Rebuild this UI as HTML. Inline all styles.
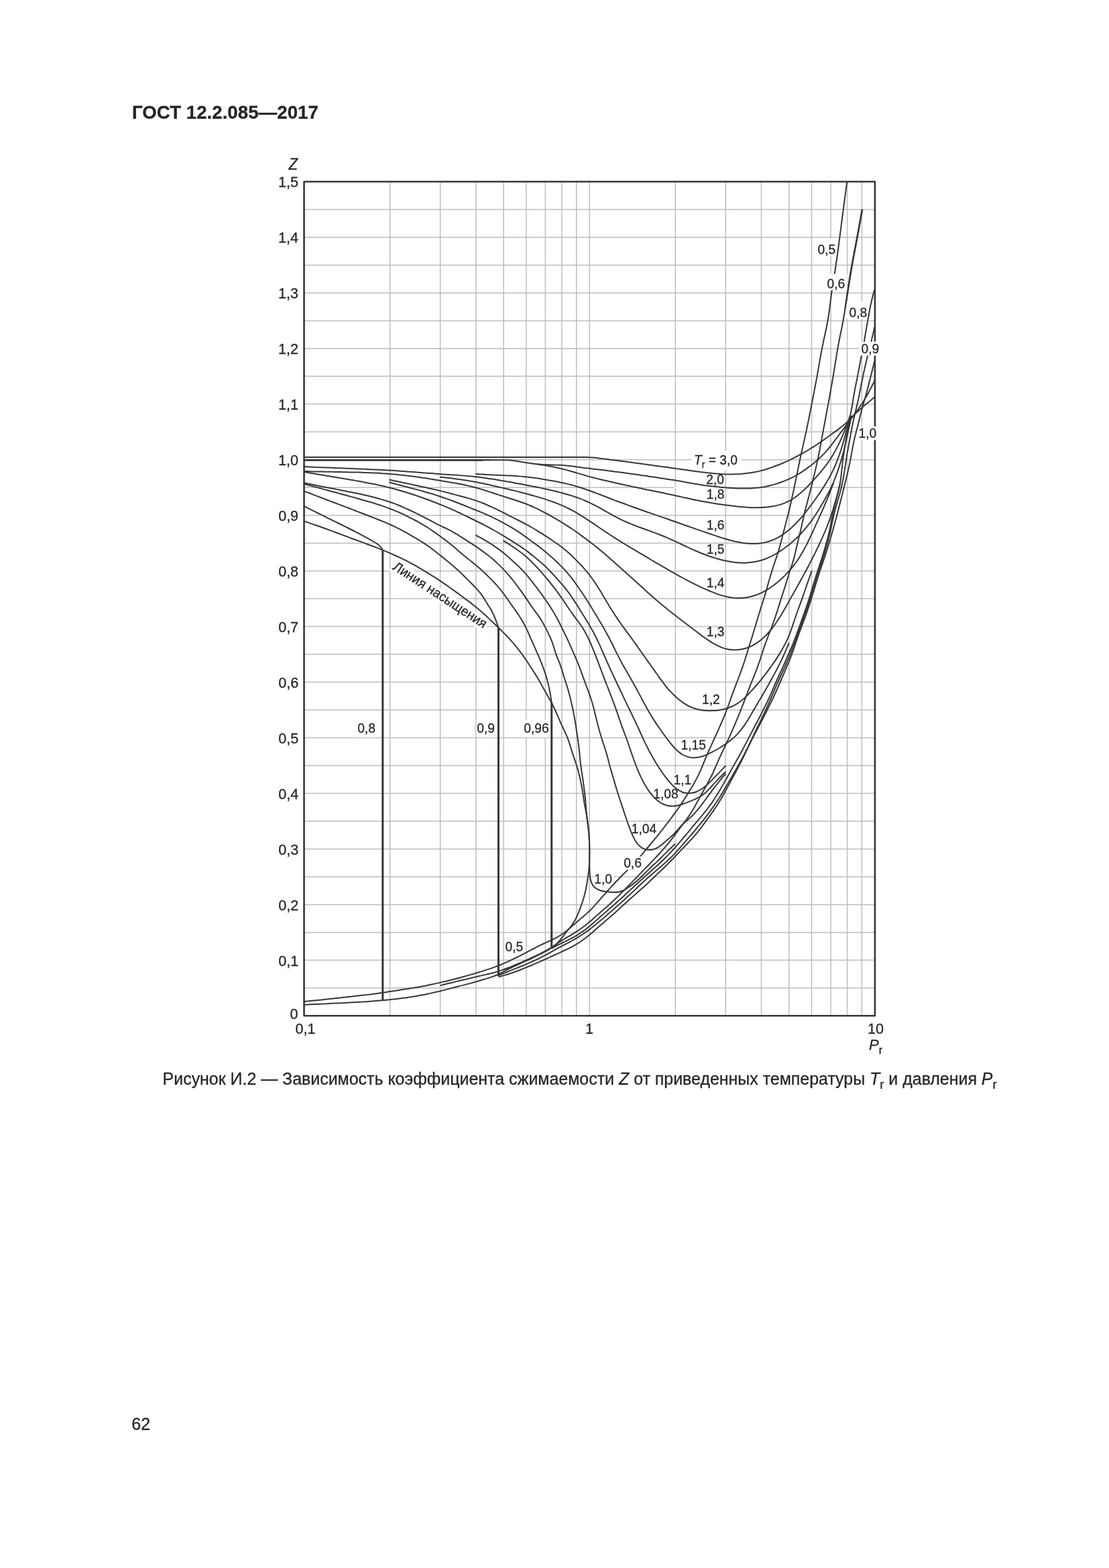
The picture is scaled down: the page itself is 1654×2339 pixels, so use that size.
<!DOCTYPE html>
<html lang="ru"><head><meta charset="utf-8"><title>ГОСТ 12.2.085—2017</title>
<style>html,body{margin:0;padding:0;background:#fff}body{width:1654px;height:2339px;overflow:hidden}svg{display:block}text{font-family:"Liberation Sans",sans-serif;fill:#262626;stroke:#262626;stroke-width:.3px}.c{fill:none;stroke:#363636;stroke-linecap:butt;stroke-linejoin:round}.g{stroke:#bdbdbd;stroke-width:1.5;fill:none}.k{fill:#fff}.a{font-size:22.1px}.l{font-size:20px}.i{font-style:italic}</style></head><body>
<svg width="1654" height="2339" viewBox="0 0 1654 2339">
<rect width="1654" height="2339" fill="#fff"/>
<path class="g" d="M581.6 271V1515.3M656.6 271V1515.3M709.8 271V1515.3M751.1 271V1515.3M784.8 271V1515.3M813.3 271V1515.3M837.9 271V1515.3M859.7 271V1515.3M1007.3 271V1515.3M1082.3 271V1515.3M1135.5 271V1515.3M1176.8 271V1515.3M1210.5 271V1515.3M1239 271V1515.3M1263.6 271V1515.3M1285.4 271V1515.3M879.2 271V1515.3M453.5 1473.8H1304.9M453.5 1432.3H1304.9M453.5 1390.9H1304.9M453.5 1349.4H1304.9M453.5 1307.9H1304.9M453.5 1266.4H1304.9M453.5 1225H1304.9M453.5 1183.5H1304.9M453.5 1142H1304.9M453.5 1100.5H1304.9M453.5 1059.1H1304.9M453.5 1017.6H1304.9M453.5 976.1H1304.9M453.5 934.6H1304.9M453.5 893.1H1304.9M453.5 851.7H1304.9M453.5 810.2H1304.9M453.5 768.7H1304.9M453.5 727.2H1304.9M453.5 685.8H1304.9M453.5 644.3H1304.9M453.5 602.8H1304.9M453.5 561.3H1304.9M453.5 519.9H1304.9M453.5 478.4H1304.9M453.5 436.9H1304.9M453.5 395.4H1304.9M453.5 354H1304.9M453.5 312.5H1304.9"/>
<rect class="c" stroke-width="2.6" stroke-linejoin="miter" x="453.5" y="271" width="851.4" height="1244.3"/>
<rect class="k" x="1004" y="1153.5" width="30.4" height="19.8"/>
<rect class="k" x="973.8" y="1174.1" width="41.1" height="19.8"/>
<rect class="k" x="941.3" y="1226.5" width="41.1" height="19.8"/>
<rect class="k" x="885.8" y="1301.6" width="30.4" height="19.8"/>
<rect class="k" x="929.7" y="1277.6" width="30.4" height="19.8"/>
<rect class="k" x="753" y="1402.5" width="30.4" height="19.8"/>
<rect class="k" x="532.7" y="1073.5" width="30.4" height="26.5"/>
<rect class="k" x="710.7" y="1073.5" width="30.4" height="26.5"/>
<rect class="k" x="779.3" y="1073.5" width="42.6" height="26.5"/>
<rect class="k" x="1216.5" y="356.3" width="32.9" height="25.8"/>
<rect class="k" x="1230.5" y="408.6" width="32.9" height="24.3"/>
<rect class="k" x="1263" y="449.5" width="33.4" height="26.3"/>
<rect class="k" x="1281.5" y="509.8" width="32.9" height="20.5"/>
<rect class="k" x="1277.5" y="636" width="32.9" height="20.5"/>
<rect class="k" x="1031.5" y="672" width="73.5" height="29"/>
<rect class="k" x="1005.5" y="726.2" width="76.7" height="2.1"/>
<g transform="translate(584.6 848.5) rotate(33.2)"><rect class="k" x="-2" y="-15.5" width="167" height="20"/></g>
<path class="c" stroke-width="2.0" d="M453.5 682L850 682"/>
<path class="c" stroke-width="2.0" d="M830 682C833 682 836 682 839 682C842 682 845 682 848 682C851 682 853.9 682 856.9 681.9C859.9 681.9 862.9 681.9 865.9 681.9C868.9 681.9 871.9 681.9 874.9 682C877.9 682.1 880.9 682.3 883.9 682.5C886.8 682.7 889.8 683.1 892.8 683.4C895.8 683.7 898.7 684.1 901.7 684.5C904.7 684.9 907.6 685.3 910.6 685.7C913.6 686 916.5 686.4 919.5 686.8C922.5 687.2 925.4 687.6 928.4 688C931.4 688.4 934.3 688.8 937.3 689.2C940.3 689.6 943.2 690 946.2 690.4C949.2 690.8 952.1 691.2 955.1 691.6C958.1 692 961 692.4 964 692.8C967 693.2 969.9 693.6 972.9 694.1C975.9 694.5 978.8 694.9 981.8 695.3C984.8 695.7 987.7 696.1 990.7 696.5C993.7 696.9 996.6 697.3 999.6 697.7C1002.6 698.1 1005.5 698.5 1008.5 699C1011.4 699.4 1014.4 699.8 1017.4 700.2C1020.3 700.7 1023.3 701.1 1026.3 701.5C1029.2 701.9 1032.2 702.3 1035.2 702.7C1038.1 703.2 1041.1 703.5 1044.1 703.9C1047 704.3 1050 704.6 1053 705C1056 705.3 1058.9 705.6 1061.9 705.9C1064.9 706.2 1067.9 706.5 1070.9 706.7C1073.8 707 1076.8 707.1 1079.8 707.3C1082.8 707.4 1085.8 707.5 1088.8 707.5C1091.8 707.5 1094.8 707.4 1097.8 707.3C1100.8 707.2 1103.7 707 1106.7 706.7C1109.7 706.5 1112.7 706.2 1115.7 705.8C1118.6 705.4 1121.6 705 1124.5 704.4C1127.5 703.9 1130.4 703.3 1133.3 702.6C1136.2 701.9 1139.1 701.1 1142 700.2C1144.8 699.4 1147.7 698.4 1150.5 697.4C1153.3 696.4 1156.1 695.4 1158.9 694.3C1161.7 693.3 1164.5 692.2 1167.3 691C1170 689.8 1172.8 688.6 1175.5 687.4C1178.2 686.1 1180.9 684.8 1183.5 683.4C1186.2 682 1188.8 680.6 1191.4 679.1C1194.1 677.7 1196.7 676.2 1199.3 674.8C1201.9 673.3 1204.5 671.8 1207.1 670.3C1209.6 668.7 1212.2 667.2 1214.7 665.6C1217.3 664 1219.7 662.3 1222.2 660.7C1224.7 659 1227.1 657.2 1229.5 655.5C1232 653.7 1234.4 651.9 1236.8 650.2C1239.2 648.4 1241.7 646.7 1244.1 644.9C1246.5 643.2 1249 641.4 1251.3 639.6C1253.7 637.8 1256.1 636 1258.4 634.1C1260.7 632.2 1262.9 630.1 1265 628.1C1267.2 626 1269.2 623.8 1271.3 621.7C1273.4 619.6 1275.5 617.4 1277.6 615.3C1279.8 613.2 1281.9 611.2 1284.2 609.2C1286.4 607.2 1288.7 605.3 1291 603.4C1293.3 601.5 1295.6 599.6 1298 597.7C1300.3 595.8 1302.6 593.9 1304.9 592"/>
<path class="c" stroke-width="2.8" d="M453.5 686.3L720 686.3"/>
<path class="c" stroke-width="2.0" d="M453.5 686.3L730 686.3"/>
<path class="c" stroke-width="2.0" d="M710 686.3C713 686.3 716 686.3 719 686.3C722 686.3 725 686.3 728 686.3C731 686.3 734.1 686.2 737.1 686.2C740.1 686.2 743.1 686.2 746.1 686.2C749.1 686.2 752.1 686.2 755.1 686.3C758.1 686.5 761.1 686.7 764.1 687C767 687.3 770 687.8 773 688.2C776 688.7 778.9 689.2 781.9 689.7C784.8 690.2 787.8 690.7 790.8 691.1C793.8 691.6 796.7 692 799.7 692.3C802.7 692.6 805.7 692.8 808.7 693C811.7 693.2 814.7 693.3 817.7 693.3C820.7 693.4 823.7 693.4 826.7 693.5C829.7 693.5 832.7 693.6 835.7 693.7C838.7 693.9 841.7 694.1 844.7 694.4C847.7 694.7 850.7 695.1 853.7 695.5C856.6 695.9 859.6 696.3 862.6 696.7C865.6 697.1 868.6 697.5 871.6 697.9C874.5 698.2 877.5 698.6 880.5 698.9C883.5 699.3 886.5 699.7 889.5 700C892.4 700.4 895.4 700.8 898.4 701.1C901.4 701.5 904.4 701.9 907.4 702.3C910.3 702.6 913.3 703 916.3 703.4C919.3 703.8 922.3 704.2 925.3 704.6C928.2 705 931.2 705.4 934.2 705.8C937.2 706.2 940.1 706.6 943.1 707C946.1 707.5 949.1 707.9 952.1 708.3C955 708.7 958 709.2 961 709.6C964 710 966.9 710.5 969.9 710.9C972.9 711.3 975.9 711.8 978.8 712.2C981.8 712.7 984.8 713.1 987.8 713.6C990.7 714 993.7 714.5 996.7 714.9C999.6 715.4 1002.6 715.9 1005.6 716.3C1008.5 716.8 1011.5 717.3 1014.5 717.8C1017.4 718.3 1020.4 718.9 1023.4 719.4C1026.3 719.9 1029.3 720.5 1032.2 721C1035.2 721.5 1038.2 722 1041.1 722.5C1044.1 723 1047.1 723.4 1050 723.9C1053 724.3 1056 724.7 1059 725.1C1062 725.5 1064.9 725.8 1067.9 726.1C1070.9 726.5 1073.9 726.8 1076.9 727C1079.9 727.3 1082.9 727.5 1085.9 727.7C1088.9 727.9 1091.9 728.1 1094.9 728.2C1097.9 728.4 1100.9 728.5 1103.9 728.5C1106.9 728.6 1109.9 728.6 1113 728.5C1116 728.5 1119 728.5 1122 728.3C1125 728.1 1128 727.9 1131 727.6C1133.9 727.2 1136.9 726.8 1139.9 726.3C1142.8 725.7 1145.8 725.1 1148.7 724.3C1151.6 723.6 1154.5 722.8 1157.3 721.9C1160.2 721 1163.1 720 1165.9 719C1168.7 718 1171.5 716.9 1174.3 715.7C1177.1 714.5 1179.8 713.3 1182.5 711.9C1185.1 710.5 1187.7 709 1190.3 707.5C1192.9 705.9 1195.4 704.3 1197.9 702.6C1200.4 700.9 1202.8 699.2 1205.2 697.4C1207.7 695.6 1210.1 693.8 1212.4 691.9C1214.8 690 1217.1 688.1 1219.4 686.1C1221.6 684.1 1223.8 682.1 1225.9 679.9C1228 677.8 1230.1 675.6 1232.1 673.4C1234.1 671.1 1236 668.8 1237.9 666.5C1239.8 664.1 1241.6 661.8 1243.4 659.4C1245.2 657 1247 654.5 1248.8 652.1C1250.6 649.7 1252.4 647.3 1254.2 644.9C1256 642.5 1257.8 640.1 1259.6 637.7C1261.4 635.3 1263.2 632.9 1265 630.5C1266.8 628.1 1268.6 625.7 1270.4 623.3C1272.2 620.9 1274.1 618.5 1275.8 616C1277.6 613.6 1279.4 611.2 1281.1 608.7C1282.9 606.3 1284.6 603.8 1286.2 601.3C1287.8 598.8 1289.4 596.2 1290.9 593.6C1292.5 591 1293.9 588.4 1295.3 585.7C1296.8 583.1 1298 580.6 1299.5 577.7C1301.2 574.4 1303.1 570.6 1304.9 567"/>
<path class="c" stroke-width="2.0" d="M800 692.3C803 692.7 805.9 693.2 808.9 693.6C811.9 694.1 814.8 694.6 817.8 695.1C820.7 695.6 823.7 696.1 826.6 696.7C829.5 697.3 832.4 698 835.4 698.7C838.3 699.4 841.2 700.1 844.1 700.9C846.9 701.7 849.8 702.5 852.7 703.3C855.6 704.2 858.4 705.1 861.3 705.9C864.2 706.8 867.1 707.6 869.9 708.4C872.8 709.3 875.7 710.1 878.6 710.9C881.5 711.6 884.4 712.4 887.3 713.1C890.2 713.9 893.1 714.6 896 715.3C898.9 716 901.8 716.7 904.8 717.3C907.7 718 910.6 718.7 913.5 719.3C916.4 720 919.4 720.7 922.3 721.3C925.2 722 928.1 722.6 931.1 723.2C934 723.9 936.9 724.5 939.9 725.1C942.8 725.8 945.7 726.4 948.7 727C951.6 727.6 954.5 728.2 957.4 728.9C960.4 729.5 963.3 730.1 966.2 730.7C969.2 731.3 972.1 731.9 975.1 732.5C978 733.1 980.9 733.7 983.9 734.3C986.8 734.9 989.7 735.5 992.7 736.2C995.6 736.8 998.5 737.4 1001.4 738C1004.4 738.7 1007.3 739.3 1010.2 739.9C1013.2 740.6 1016.1 741.2 1019 741.9C1021.9 742.5 1024.9 743.2 1027.8 743.8C1030.7 744.4 1033.6 745.1 1036.6 745.7C1039.5 746.3 1042.4 746.9 1045.4 747.5C1048.3 748 1051.3 748.6 1054.2 749.1C1057.2 749.6 1060.1 750.1 1063.1 750.6C1066 751 1069 751.5 1072 751.9C1074.9 752.3 1077.9 752.8 1080.9 753.2C1083.9 753.6 1086.8 753.9 1089.8 754.3C1092.8 754.7 1095.8 755 1098.7 755.4C1101.7 755.7 1104.7 756 1107.7 756.2C1110.7 756.5 1113.7 756.7 1116.7 756.9C1119.7 757.1 1122.7 757.2 1125.7 757.2C1128.7 757.3 1131.7 757.2 1134.7 757.1C1137.7 757 1140.7 756.8 1143.6 756.5C1146.6 756.2 1149.6 755.8 1152.6 755.3C1155.5 754.8 1158.4 754.1 1161.3 753.4C1164.2 752.6 1167 751.7 1169.8 750.6C1172.5 749.5 1175.2 748.3 1177.8 746.9C1180.5 745.5 1183 743.9 1185.4 742.2C1187.9 740.6 1190.2 738.7 1192.5 736.8C1194.8 734.9 1197.1 732.9 1199.2 730.8C1201.4 728.8 1203.5 726.6 1205.6 724.5C1207.7 722.3 1209.8 720.1 1211.8 717.9C1213.8 715.7 1215.8 713.4 1217.8 711.2C1219.8 708.9 1221.8 706.6 1223.7 704.3C1225.6 702 1227.5 699.7 1229.4 697.4C1231.2 695 1233 692.6 1234.8 690.2C1236.5 687.7 1238.2 685.3 1239.8 682.7C1241.4 680.2 1242.9 677.7 1244.4 675.1C1245.9 672.5 1247.3 669.8 1248.6 667.1C1250 664.5 1251.3 661.8 1252.6 659.1C1253.8 656.4 1255.1 653.6 1256.2 650.9C1257.4 648.1 1258.6 645.3 1259.7 642.5C1260.8 639.8 1261.8 637 1262.8 634.1C1263.9 631.3 1265 628.2 1265.8 625.7C1266.6 623.6 1267.1 621.9 1267.8 620"/>
<path class="c" stroke-width="2.0" d="M709.2 706.9C712.2 707.1 715.2 707.2 718.2 707.4C721.2 707.6 724.1 707.7 727.1 707.9C730.1 708 733.1 708.2 736.1 708.4C739.1 708.5 742.1 708.6 745.1 708.8C748.1 708.9 751.1 709 754.1 709.2C757.1 709.3 760 709.5 763 709.6C766 709.8 769 709.9 772 710.2C775 710.4 778 710.6 780.9 710.9C783.9 711.2 786.9 711.5 789.9 711.9C792.8 712.2 795.8 712.6 798.7 713.1C801.7 713.5 804.7 714 807.6 714.5C810.6 714.9 813.5 715.4 816.5 716C819.4 716.5 822.4 717 825.3 717.5C828.3 718.1 831.2 718.7 834.1 719.2C837.1 719.8 840 720.5 842.9 721.1C845.8 721.8 848.7 722.5 851.6 723.3C854.5 724 857.4 724.8 860.3 725.7C863.2 726.5 866 727.4 868.8 728.3C871.7 729.3 874.5 730.2 877.3 731.2C880.2 732.2 883 733.3 885.8 734.3C888.6 735.4 891.4 736.4 894.2 737.5C897 738.6 899.8 739.7 902.6 740.8C905.4 741.8 908.1 742.9 910.9 744C913.7 745.1 916.5 746.1 919.3 747.2C922.1 748.2 924.9 749.3 927.8 750.3C930.6 751.4 933.4 752.4 936.2 753.4C939 754.5 941.8 755.5 944.6 756.5C947.4 757.5 950.3 758.5 953.1 759.5C955.9 760.5 958.7 761.5 961.6 762.5C964.4 763.5 967.2 764.5 970 765.4C972.9 766.4 975.7 767.4 978.5 768.4C981.4 769.4 984.2 770.4 987 771.4C989.8 772.3 992.7 773.3 995.5 774.3C998.3 775.3 1001.1 776.3 1004 777.3C1006.8 778.3 1009.6 779.2 1012.5 780.2C1015.3 781.2 1018.1 782.2 1020.9 783.2C1023.8 784.2 1026.6 785.2 1029.4 786.1C1032.2 787.1 1035.1 788.1 1037.9 789.1C1040.7 790.1 1043.6 791.1 1046.4 792.1C1049.2 793 1052.1 794 1054.9 795C1057.7 796 1060.6 797 1063.4 797.9C1066.2 798.9 1069.1 799.9 1071.9 800.8C1074.8 801.7 1077.6 802.6 1080.5 803.5C1083.4 804.4 1086.3 805.2 1089.2 806C1092.1 806.7 1095 807.4 1097.9 808.1C1100.9 808.7 1103.8 809.2 1106.8 809.7C1109.7 810.1 1112.7 810.5 1115.7 810.7C1118.7 810.9 1121.7 811 1124.7 811C1127.6 811 1130.6 810.8 1133.6 810.4C1136.5 810.1 1139.4 809.6 1142.3 808.9C1145.2 808.2 1148 807.3 1150.7 806.2C1153.5 805.2 1156.2 804 1158.8 802.6C1161.5 801.3 1164 799.7 1166.5 798.1C1169 796.5 1171.5 794.7 1173.8 792.8C1176.2 791 1178.4 789 1180.7 787C1182.9 785 1185 782.9 1187.1 780.7C1189.2 778.6 1191.2 776.4 1193.2 774.1C1195.2 771.9 1197.2 769.6 1199.1 767.3C1201 765 1202.8 762.6 1204.6 760.2C1206.5 757.8 1208.2 755.4 1210 753C1211.8 750.6 1213.6 748.2 1215.3 745.7C1217 743.3 1218.8 740.8 1220.5 738.4C1222.2 735.9 1223.9 733.4 1225.5 730.9C1227.2 728.4 1228.8 725.9 1230.4 723.4C1232 720.8 1233.5 718.3 1235 715.7C1236.5 713.1 1237.9 710.5 1239.3 707.8C1240.7 705.2 1242 702.5 1243.2 699.8C1244.5 697.1 1245.7 694.3 1246.9 691.6C1248 688.8 1249.1 686 1250.1 683.2C1251.2 680.4 1252.2 677.6 1253.1 674.7C1254 671.9 1254.9 669 1255.8 666.2C1256.7 663.3 1257.5 660.4 1258.3 657.5C1259.1 654.7 1259.9 651.8 1260.7 648.9C1261.5 646 1262.2 643.1 1263 640.2C1263.8 637.3 1264.5 634.6 1265.4 631.5C1266.4 628 1267.5 623.8 1268.6 620"/>
<path class="c" stroke-width="2.0" d="M453.5 696.1C456.5 696.2 459.5 696.4 462.5 696.5C465.5 696.6 468.5 696.7 471.5 696.9C474.5 697 477.5 697.1 480.5 697.2C483.5 697.3 486.5 697.5 489.5 697.6C492.5 697.7 495.5 697.8 498.5 697.9C501.5 698.1 504.5 698.2 507.5 698.3C510.5 698.4 513.5 698.5 516.5 698.7C519.5 698.8 522.5 698.9 525.5 699C528.5 699.1 531.5 699.3 534.5 699.4C537.5 699.5 540.5 699.7 543.5 699.8C546.5 699.9 549.5 700.1 552.5 700.2C555.5 700.3 558.5 700.5 561.5 700.6C564.5 700.8 567.5 700.9 570.5 701.1C573.5 701.3 576.5 701.4 579.5 701.6C582.5 701.8 585.5 702 588.5 702.1C591.5 702.3 594.5 702.5 597.5 702.7C600.5 702.9 603.5 703.2 606.5 703.4C609.5 703.6 612.5 703.8 615.4 704C618.4 704.3 621.4 704.5 624.4 704.7C627.4 705 630.4 705.2 633.4 705.4C636.4 705.7 639.4 705.9 642.4 706.1C645.4 706.4 648.4 706.6 651.4 706.8C654.4 707 657.4 707.2 660.4 707.4C663.4 707.6 666.4 707.8 669.3 708C672.3 708.2 675.3 708.4 678.3 708.6C681.3 708.8 684.3 709 687.3 709.3C690.3 709.5 693.3 709.7 696.3 710C699.3 710.2 702.3 710.5 705.3 710.8C708.3 711.1 711.2 711.5 714.2 711.8C717.2 712.2 720.2 712.6 723.1 713C726.1 713.4 729.1 713.9 732.1 714.3C735 714.8 738 715.2 741 715.7C743.9 716.2 746.9 716.7 749.8 717.2C752.8 717.8 755.8 718.3 758.7 718.8C761.7 719.3 764.6 719.9 767.6 720.4C770.5 720.9 773.5 721.5 776.4 722C779.4 722.6 782.3 723.1 785.3 723.7C788.2 724.2 791.2 724.8 794.1 725.4C797.1 725.9 800 726.5 803 727.1C805.9 727.7 808.9 728.3 811.8 729C814.7 729.6 817.7 730.3 820.6 730.9C823.5 731.6 826.4 732.3 829.4 733C832.3 733.8 835.2 734.5 838.1 735.3C841 736.1 843.9 736.9 846.7 737.8C849.6 738.6 852.5 739.5 855.4 740.4C858.2 741.4 861 742.3 863.9 743.4C866.7 744.4 869.5 745.5 872.2 746.7C875 747.8 877.7 749 880.4 750.3C883.1 751.6 885.8 753 888.4 754.4C891.1 755.8 893.7 757.2 896.3 758.7C899 760.2 901.6 761.7 904.2 763.1C906.8 764.6 909.4 766.1 912 767.6C914.7 769 917.3 770.5 920 771.8C922.6 773.2 925.3 774.6 928 775.8C930.7 777.1 933.5 778.4 936.2 779.5C939 780.7 941.7 781.9 944.5 783C947.3 784.1 950.1 785.1 952.9 786.2C955.8 787.2 958.6 788.2 961.4 789.2C964.2 790.3 967.1 791.3 969.9 792.3C972.7 793.3 975.5 794.4 978.3 795.4C981.1 796.5 983.9 797.6 986.7 798.7C989.5 799.8 992.3 801 995 802.2C997.8 803.4 1000.5 804.6 1003.2 805.9C1006 807.1 1008.7 808.4 1011.4 809.7C1014.1 810.9 1016.8 812.2 1019.6 813.5C1022.3 814.8 1025 816 1027.7 817.3C1030.5 818.5 1033.2 819.8 1036 821C1038.7 822.2 1041.5 823.4 1044.2 824.5C1047 825.7 1049.8 826.8 1052.6 827.8C1055.4 828.9 1058.3 829.9 1061.1 830.8C1064 831.8 1066.9 832.6 1069.8 833.5C1072.6 834.3 1075.6 835.1 1078.5 835.8C1081.4 836.5 1084.4 837.1 1087.3 837.6C1090.3 838.2 1093.2 838.6 1096.2 839C1099.2 839.3 1102.2 839.5 1105.2 839.6C1108.2 839.7 1111.2 839.7 1114.1 839.5C1117.1 839.4 1120.1 839.1 1123 838.6C1126 838.2 1128.9 837.6 1131.8 836.8C1134.7 836.1 1137.5 835.2 1140.3 834.2C1143.1 833.1 1145.9 831.9 1148.6 830.7C1151.3 829.4 1153.9 828 1156.5 826.5C1159.1 825 1161.7 823.4 1164.2 821.7C1166.7 820.1 1169.2 818.3 1171.6 816.5C1174 814.7 1176.4 812.9 1178.7 811C1181 809 1183.3 807 1185.5 805C1187.7 803 1189.8 800.9 1191.9 798.7C1194 796.6 1196 794.4 1198 792.1C1200 789.9 1202 787.6 1203.8 785.2C1205.7 782.9 1207.6 780.5 1209.3 778.1C1211.1 775.7 1212.8 773.2 1214.5 770.7C1216.2 768.2 1217.8 765.7 1219.4 763.2C1221 760.6 1222.5 758.1 1224.1 755.5C1225.6 752.9 1227.1 750.3 1228.6 747.7C1230.1 745.1 1231.6 742.5 1233 739.8C1234.5 737.2 1235.9 734.6 1237.2 731.9C1238.6 729.2 1239.9 726.5 1241.1 723.8C1242.3 721.1 1243.5 718.3 1244.6 715.6C1245.8 712.8 1246.8 710 1247.8 707.2C1248.9 704.3 1249.8 701.5 1250.8 698.6C1251.7 695.8 1252.6 692.9 1253.5 690.1C1254.4 687.2 1255.2 684.3 1256 681.4C1256.9 678.5 1257.6 675.6 1258.4 672.7C1259.1 669.8 1259.8 666.9 1260.5 664C1261.2 661 1261.8 658.1 1262.5 655.2C1263.1 652.2 1263.7 649.3 1264.4 646.4C1265 643.4 1265.6 640.5 1266.3 637.6C1266.9 634.6 1267.6 631.7 1268.3 628.8C1268.9 625.8 1269.6 622.9 1270.3 620"/>
<path class="c" stroke-width="2.0" d="M656 711.4C659 711.8 662 712.1 664.9 712.5C667.9 712.9 670.9 713.2 673.9 713.6C676.9 714 679.8 714.4 682.8 714.8C685.8 715.2 688.8 715.6 691.7 716C694.7 716.5 697.7 717 700.6 717.5C703.6 718 706.6 718.5 709.5 719C712.4 719.6 715.4 720.2 718.3 720.8C721.3 721.4 724.2 722.1 727.1 722.7C730.1 723.4 733 724 735.9 724.7C738.9 725.3 741.8 726 744.7 726.7C747.6 727.3 750.6 728 753.5 728.7C756.4 729.4 759.3 730.1 762.3 730.8C765.2 731.5 768.1 732.2 771 732.9C773.9 733.7 776.8 734.4 779.7 735.2C782.6 735.9 785.6 736.7 788.5 737.5C791.4 738.3 794.3 739 797.1 739.9C800 740.7 802.9 741.5 805.8 742.4C808.7 743.3 811.5 744.1 814.4 745.1C817.3 746 820.1 747 822.9 748C825.8 749 828.6 750 831.4 751.2C834.1 752.3 836.9 753.4 839.7 754.6C842.4 755.9 845.1 757.1 847.8 758.5C850.5 759.8 853.1 761.2 855.8 762.7C858.4 764.1 861 765.6 863.5 767.2C866.1 768.7 868.6 770.3 871.2 771.9C873.7 773.6 876.2 775.2 878.7 776.9C881.2 778.6 883.7 780.2 886.2 781.9C888.7 783.6 891.2 785.3 893.7 787C896.2 788.6 898.6 790.3 901.1 792C903.6 793.7 906.1 795.3 908.7 797C911.2 798.6 913.7 800.3 916.2 801.9C918.7 803.5 921.3 805.1 923.8 806.7C926.4 808.3 928.9 809.9 931.5 811.4C934.1 813 936.6 814.5 939.2 816.1C941.8 817.6 944.4 819.1 947 820.7C949.5 822.2 952.1 823.7 954.7 825.3C957.3 826.8 959.9 828.3 962.5 829.9C965 831.4 967.6 833 970.2 834.5C972.8 836 975.3 837.6 977.9 839.1C980.5 840.6 983.1 842.2 985.7 843.7C988.3 845.2 990.9 846.7 993.5 848.2C996.1 849.7 998.7 851.2 1001.3 852.7C1003.9 854.2 1006.5 855.7 1009.2 857.1C1011.8 858.6 1014.4 860 1017.1 861.5C1019.7 862.9 1022.3 864.3 1025 865.7C1027.7 867.1 1030.3 868.5 1033 869.9C1035.7 871.2 1038.4 872.6 1041.1 873.9C1043.8 875.2 1046.5 876.4 1049.3 877.7C1052 878.9 1054.8 880.1 1057.6 881.3C1060.4 882.4 1063.2 883.6 1066 884.6C1068.8 885.7 1071.7 886.7 1074.5 887.6C1077.4 888.5 1080.3 889.3 1083.2 890C1086.1 890.6 1089.1 891.2 1092 891.6C1095 891.9 1097.9 892.2 1100.9 892.2C1103.9 892.2 1106.8 892.1 1109.8 891.8C1112.7 891.5 1115.7 891 1118.6 890.3C1121.5 889.6 1124.4 888.8 1127.2 887.8C1130 886.8 1132.8 885.7 1135.5 884.4C1138.2 883.1 1140.8 881.7 1143.4 880.2C1146 878.7 1148.5 877 1150.9 875.3C1153.4 873.5 1155.8 871.7 1158.1 869.8C1160.4 867.9 1162.7 865.9 1164.9 863.9C1167.2 861.8 1169.3 859.7 1171.5 857.6C1173.6 855.5 1175.6 853.3 1177.6 851C1179.6 848.8 1181.5 846.5 1183.3 844.1C1185.2 841.7 1187 839.3 1188.7 836.8C1190.4 834.4 1192 831.9 1193.6 829.3C1195.1 826.8 1196.7 824.2 1198.1 821.5C1199.6 818.9 1201 816.3 1202.4 813.6C1203.7 810.9 1205.1 808.2 1206.4 805.5C1207.7 802.8 1209 800.1 1210.2 797.4C1211.5 794.6 1212.7 791.9 1214 789.2C1215.2 786.4 1216.5 783.7 1217.7 780.9C1218.9 778.2 1220.2 775.5 1221.4 772.7C1222.7 770 1223.9 767.2 1225.1 764.5C1226.3 761.8 1227.6 759 1228.7 756.3C1229.9 753.5 1231.1 750.7 1232.3 748C1233.4 745.2 1234.6 742.4 1235.7 739.6C1236.8 736.8 1237.8 734.2 1239 731.2C1240.3 727.8 1241.8 723.7 1243.2 720"/>
<path class="c" stroke-width="2.0" d="M453.5 703C456.5 703.1 459.5 703.1 462.5 703.2C465.5 703.3 468.5 703.4 471.5 703.4C474.5 703.5 477.5 703.5 480.5 703.6C483.5 703.7 486.5 703.7 489.5 703.8C492.5 703.8 495.5 703.9 498.5 703.9C501.5 704 504.5 704 507.5 704.1C510.5 704.1 513.5 704.2 516.5 704.2C519.6 704.3 522.6 704.4 525.6 704.4C528.6 704.5 531.6 704.6 534.6 704.6C537.6 704.7 540.6 704.8 543.6 704.9C546.6 705 549.6 705.1 552.6 705.2C555.6 705.4 558.6 705.5 561.6 705.6C564.6 705.8 567.6 706 570.6 706.2C573.6 706.3 576.6 706.6 579.5 706.8C582.5 707 585.5 707.3 588.5 707.5C591.5 707.8 594.5 708.1 597.5 708.4C600.5 708.8 603.5 709.1 606.4 709.5C609.4 709.8 612.4 710.2 615.4 710.6C618.3 711 621.3 711.4 624.3 711.8C627.3 712.2 630.2 712.7 633.2 713.1C636.2 713.6 639.1 714 642.1 714.5C645.1 715 648 715.4 651 715.9C654 716.4 656.9 716.9 659.9 717.4C662.9 717.8 665.8 718.3 668.8 718.9C671.8 719.4 674.7 719.9 677.7 720.4C680.6 721 683.6 721.5 686.5 722.1C689.5 722.7 692.4 723.3 695.3 723.9C698.3 724.6 701.2 725.3 704.1 726C707 726.7 709.9 727.5 712.8 728.3C715.7 729.2 718.5 730 721.4 730.9C724.3 731.8 727.1 732.7 730 733.6C732.8 734.6 735.7 735.5 738.5 736.5C741.4 737.4 744.2 738.4 747.1 739.3C750 740.2 752.8 741.1 755.7 742C758.5 742.9 761.4 743.8 764.3 744.7C767.1 745.7 770 746.6 772.8 747.5C775.7 748.5 778.5 749.5 781.3 750.5C784.1 751.5 786.9 752.6 789.7 753.8C792.5 754.9 795.2 756.1 797.9 757.4C800.7 758.6 803.4 760 806 761.3C808.7 762.7 811.4 764.1 814 765.5C816.6 766.9 819.3 768.4 821.9 769.9C824.5 771.4 827.1 772.9 829.7 774.4C832.3 775.9 834.8 777.5 837.4 779C840 780.6 842.5 782.2 845.1 783.8C847.6 785.4 850.1 787 852.6 788.7C855.1 790.4 857.6 792.1 860 793.8C862.4 795.5 864.9 797.3 867.3 799.1C869.7 800.9 872.1 802.7 874.5 804.4C876.9 806.2 879.3 808.1 881.7 809.9C884 811.7 886.4 813.5 888.7 815.4C891.1 817.2 893.4 819.1 895.7 821C898 822.9 900.3 824.8 902.6 826.8C904.9 828.8 907.1 830.7 909.3 832.7C911.6 834.7 913.8 836.7 916.1 838.7C918.3 840.7 920.5 842.7 922.8 844.7C925 846.7 927.3 848.7 929.5 850.7C931.7 852.7 934 854.7 936.2 856.7C938.5 858.7 940.7 860.7 943 862.7C945.2 864.7 947.4 866.7 949.6 868.7C951.9 870.8 954.1 872.8 956.3 874.8C958.5 876.8 960.8 878.8 963 880.9C965.2 882.9 967.4 884.9 969.7 886.9C971.9 888.9 974.2 890.9 976.4 892.9C978.7 894.8 981 896.8 983.2 898.7C985.5 900.7 987.8 902.6 990.2 904.5C992.5 906.4 994.8 908.3 997.1 910.2C999.5 912.1 1001.8 913.9 1004.2 915.8C1006.6 917.7 1008.9 919.5 1011.3 921.3C1013.7 923.2 1016.1 925 1018.5 926.8C1020.9 928.6 1023.3 930.4 1025.7 932.2C1028.1 934.1 1030.5 935.9 1032.9 937.7C1035.3 939.5 1037.7 941.4 1040.1 943.2C1042.5 945 1044.9 946.8 1047.3 948.6C1049.8 950.4 1052.2 952.2 1054.7 953.9C1057.2 955.6 1059.7 957.3 1062.3 958.9C1064.9 960.4 1067.5 961.9 1070.2 963.2C1072.9 964.5 1075.6 965.6 1078.4 966.6C1081.2 967.5 1084.1 968.2 1087 968.7C1089.9 969.2 1092.8 969.5 1095.8 969.5C1098.7 969.5 1101.6 969.3 1104.5 968.8C1107.4 968.3 1110.3 967.6 1113.1 966.7C1115.9 965.7 1118.7 964.6 1121.4 963.3C1124 961.9 1126.6 960.4 1129.1 958.8C1131.6 957.1 1134 955.3 1136.3 953.4C1138.6 951.4 1140.8 949.4 1142.9 947.2C1145 945.1 1147 942.8 1149 940.5C1150.9 938.2 1152.7 935.8 1154.5 933.4C1156.3 931 1158 928.5 1159.6 926C1161.3 923.4 1162.9 920.9 1164.5 918.3C1166 915.7 1167.6 913.1 1169.1 910.5C1170.6 907.9 1172.1 905.3 1173.6 902.7C1175 900.1 1176.5 897.4 1177.9 894.8C1179.4 892.2 1180.9 889.6 1182.3 886.9C1183.8 884.3 1185.2 881.7 1186.7 879.1C1188.2 876.4 1189.7 873.8 1191.1 871.2C1192.6 868.6 1194.1 866 1195.5 863.3C1197 860.7 1198.4 858.1 1199.8 855.4C1201.3 852.8 1202.7 850.2 1204.1 847.5C1205.5 844.9 1206.9 842.2 1208.3 839.5C1209.6 836.8 1211 834.2 1212.3 831.5C1213.7 828.8 1215 826.1 1216.4 823.4C1217.7 820.7 1219 818 1220.3 815.3C1221.6 812.6 1222.9 809.9 1224.1 807.1C1225.4 804.4 1226.6 801.7 1227.8 798.9C1229 796.2 1230.2 793.4 1231.4 790.7C1232.5 787.9 1233.6 785.1 1234.7 782.3C1235.8 779.5 1236.8 776.7 1237.8 773.9C1238.8 771 1239.8 768.2 1240.7 765.3C1241.7 762.5 1242.6 759.6 1243.4 756.7C1244.3 753.9 1245.1 751 1246 748.1C1246.8 745.2 1247.6 742.3 1248.4 739.4C1249.2 736.5 1249.9 733.6 1250.7 730.7C1251.5 727.8 1252.2 724.9 1253 722"/>
<path class="c" stroke-width="2.0" d="M580.3 715.5C583.2 716.1 586.2 716.8 589.1 717.4C592 718 595 718.7 597.9 719.3C600.8 719.9 603.8 720.5 606.7 721.1C609.7 721.8 612.6 722.4 615.5 723C618.5 723.6 621.4 724.3 624.3 724.9C627.3 725.5 630.2 726.2 633.1 726.8C636.1 727.5 639 728.1 641.9 728.8C644.8 729.5 647.8 730.1 650.7 730.8C653.6 731.5 656.5 732.2 659.4 732.9C662.4 733.7 665.3 734.4 668.2 735.1C671.1 735.9 674 736.6 676.9 737.4C679.8 738.1 682.7 738.9 685.6 739.7C688.5 740.4 691.4 741.2 694.3 742C697.2 742.9 700.1 743.7 702.9 744.6C705.8 745.5 708.7 746.4 711.5 747.4C714.3 748.4 717.1 749.4 719.9 750.5C722.7 751.6 725.5 752.8 728.2 754C731 755.2 733.7 756.5 736.4 757.7C739.1 759 741.8 760.4 744.5 761.7C747.2 763 749.9 764.4 752.6 765.7C755.2 767.1 757.9 768.4 760.6 769.8C763.3 771.1 766 772.5 768.7 773.8C771.3 775.2 774 776.5 776.7 777.9C779.3 779.3 782 780.7 784.6 782.1C787.3 783.6 789.9 785 792.5 786.5C795.1 788 797.7 789.5 800.3 791.1C802.8 792.6 805.4 794.2 807.9 795.8C810.5 797.4 813 799.1 815.5 800.7C818 802.3 820.5 804 823 805.7C825.5 807.4 828 809.1 830.4 810.8C832.9 812.5 835.3 814.3 837.7 816.1C840 818 842.4 819.8 844.7 821.8C846.9 823.7 849.2 825.7 851.4 827.8C853.5 829.8 855.7 831.9 857.8 834.1C860 836.2 862.1 838.3 864.1 840.5C866.2 842.6 868.3 844.8 870.3 847.1C872.3 849.3 874.2 851.6 876.1 853.9C878 856.2 879.8 858.6 881.6 861C883.4 863.4 885.2 865.9 886.9 868.3C888.6 870.8 890.2 873.3 891.8 875.9C893.4 878.4 895 880.9 896.6 883.5C898.1 886.1 899.6 888.7 901.1 891.3C902.7 893.9 904.2 896.5 905.7 899C907.3 901.6 908.8 904.2 910.4 906.7C912 909.3 913.6 911.8 915.2 914.3C916.8 916.9 918.5 919.4 920.1 921.9C921.8 924.4 923.5 926.8 925.2 929.3C926.9 931.8 928.7 934.2 930.5 936.6C932.2 939.1 934 941.5 935.8 943.9C937.6 946.3 939.4 948.7 941.2 951.1C942.9 953.5 944.7 956 946.4 958.4C948.2 960.8 949.9 963.3 951.6 965.8C953.4 968.2 955.1 970.7 956.8 973.1C958.5 975.6 960.2 978 962 980.5C963.7 982.9 965.5 985.4 967.2 987.8C968.9 990.3 970.7 992.7 972.4 995.2C974.2 997.6 975.9 1000.1 977.6 1002.5C979.3 1005 981.1 1007.5 982.8 1009.9C984.5 1012.4 986.3 1014.8 988.1 1017.2C989.9 1019.6 991.7 1022 993.6 1024.3C995.5 1026.6 997.5 1028.9 999.5 1031.1C1001.6 1033.3 1003.7 1035.4 1005.9 1037.5C1008 1039.6 1010.3 1041.6 1012.6 1043.5C1014.9 1045.4 1017.3 1047.3 1019.8 1048.9C1022.3 1050.6 1024.9 1052.1 1027.5 1053.4C1030.2 1054.7 1033 1055.9 1035.8 1056.8C1038.6 1057.7 1041.6 1058.4 1044.5 1058.9C1047.5 1059.4 1050.5 1059.8 1053.5 1060C1056.5 1060.2 1059.5 1060.2 1062.5 1060.1C1065.5 1060 1068.5 1059.8 1071.5 1059.4C1074.5 1059 1077.4 1058.4 1080.3 1057.7C1083.2 1057 1086.1 1056.1 1088.9 1055C1091.7 1053.9 1094.4 1052.7 1097 1051.2C1099.6 1049.8 1102 1048.1 1104.4 1046.3C1106.8 1044.5 1109 1042.5 1111.2 1040.4C1113.4 1038.4 1115.5 1036.2 1117.5 1034C1119.6 1031.8 1121.6 1029.6 1123.6 1027.3C1125.6 1025.1 1127.6 1022.8 1129.6 1020.5C1131.5 1018.3 1133.5 1016 1135.4 1013.6C1137.2 1011.3 1139.1 1009 1140.9 1006.6C1142.8 1004.2 1144.5 1001.8 1146.3 999.4C1148.1 996.9 1149.8 994.5 1151.6 992C1153.3 989.6 1155 987.1 1156.7 984.6C1158.4 982.1 1160 979.6 1161.6 977.1C1163.2 974.5 1164.7 971.9 1166.2 969.3C1167.7 966.7 1169.1 964.1 1170.5 961.4C1171.9 958.8 1173.2 956.1 1174.5 953.4C1175.7 950.6 1176.8 947.9 1177.9 945.1C1179 942.3 1180 939.4 1181 936.6C1182 933.8 1182.9 930.9 1183.9 928.1C1184.8 925.2 1185.7 922.4 1186.7 919.5C1187.7 916.7 1188.7 913.9 1189.7 911C1190.7 908.2 1191.8 905.4 1192.8 902.6C1193.8 899.8 1194.9 897 1195.9 894.1C1196.9 891.3 1197.9 888.5 1198.9 885.6C1199.9 882.8 1200.8 880 1201.8 877.1C1202.8 874.3 1203.7 871.4 1204.7 868.6C1205.7 865.8 1206.7 862.9 1207.7 860.1C1208.7 857.3 1209.7 854.4 1210.7 851.6"/>
<path class="c" stroke-width="2.0" d="M580.3 719.3C583.2 720.1 586.1 720.9 589 721.7C591.9 722.4 594.8 723.2 597.7 724C600.6 724.8 603.5 725.5 606.4 726.3C609.3 727.1 612.2 727.8 615.1 728.6C617.9 729.4 620.8 730.1 623.7 730.9C626.6 731.7 629.5 732.5 632.4 733.3C635.3 734.1 638.2 734.9 641.1 735.8C643.9 736.6 646.8 737.5 649.7 738.4C652.5 739.3 655.4 740.2 658.2 741.2C661.1 742.1 663.9 743.1 666.7 744.1C669.5 745.1 672.3 746.2 675.1 747.2C677.9 748.3 680.7 749.4 683.5 750.5C686.3 751.6 689.1 752.7 691.9 753.8C694.7 754.9 697.4 756 700.2 757.1C703 758.3 705.8 759.4 708.6 760.5C711.4 761.6 714.1 762.7 716.9 763.9C719.7 765 722.4 766.2 725.2 767.4C727.9 768.6 730.6 769.9 733.3 771.2C736.1 772.4 738.7 773.8 741.4 775.2C744.1 776.5 746.7 777.9 749.4 779.3C752 780.8 754.6 782.2 757.3 783.7C759.9 785.1 762.5 786.6 765 788.2C767.6 789.7 770.1 791.3 772.6 792.9C775.1 794.6 777.6 796.3 780 798C782.5 799.8 784.9 801.5 787.3 803.3C789.7 805.1 792.2 806.8 794.6 808.6C797 810.3 799.4 812.1 801.8 813.9C804.2 815.7 806.6 817.6 808.9 819.5C811.3 821.3 813.6 823.2 815.8 825.2C818.1 827.1 820.4 829.1 822.6 831.1C824.9 833.1 827.1 835.1 829.3 837.2C831.5 839.2 833.6 841.3 835.7 843.4C837.9 845.5 840 847.7 842 849.9C844 852.1 846 854.3 847.9 856.6C849.9 858.9 851.7 861.2 853.6 863.6C855.4 866 857.2 868.4 858.9 870.8C860.7 873.2 862.4 875.7 864.1 878.2C865.8 880.7 867.5 883.2 869.1 885.7C870.8 888.2 872.4 890.7 874 893.2C875.6 895.7 877.2 898.3 878.8 900.8C880.4 903.3 882 905.9 883.5 908.5C885.1 911 886.6 913.6 888.2 916.2C889.7 918.7 891.2 921.3 892.8 923.9C894.3 926.5 895.8 929 897.3 931.6C898.9 934.2 900.4 936.8 901.8 939.4C903.3 942 904.8 944.6 906.2 947.3C907.6 949.9 909 952.6 910.3 955.3C911.7 957.9 913 960.6 914.4 963.3C915.7 966 917 968.7 918.3 971.4C919.7 974.1 921 976.7 922.4 979.4C923.7 982.1 925.1 984.7 926.6 987.4C928 990 929.4 992.6 930.9 995.2C932.4 997.8 933.9 1000.4 935.4 1003C936.8 1005.6 938.4 1008.2 939.9 1010.8C941.3 1013.4 942.8 1016 944.3 1018.7C945.8 1021.3 947.2 1023.9 948.7 1026.5C950.1 1029.1 951.5 1031.8 952.9 1034.4C954.4 1037.1 955.8 1039.7 957.2 1042.4C958.6 1045 960 1047.6 961.4 1050.3C962.9 1052.9 964.3 1055.5 965.8 1058.2C967.2 1060.8 968.7 1063.4 970.3 1065.9C971.8 1068.5 973.4 1071.1 975 1073.6C976.6 1076.1 978.2 1078.6 979.9 1081.1C981.6 1083.6 983.3 1086.1 985 1088.5C986.7 1091 988.5 1093.4 990.3 1095.8C992.1 1098.3 993.8 1100.7 995.7 1103.1C997.5 1105.5 999.3 1107.9 1001.2 1110.2C1003.2 1112.5 1005.1 1114.8 1007.2 1117C1009.4 1119.1 1011.5 1121.2 1013.9 1122.9C1016.3 1124.7 1018.9 1126.3 1021.6 1127.4C1024.2 1128.6 1027.1 1129.4 1030 1129.9C1032.9 1130.3 1035.9 1130.4 1038.8 1130.1C1041.7 1129.8 1044.7 1129.1 1047.5 1128.2C1050.4 1127.4 1053.2 1126.2 1055.9 1124.9C1058.6 1123.7 1061.3 1122.3 1064 1120.9C1066.7 1119.5 1069.3 1118 1071.9 1116.5C1074.5 1114.9 1077 1113.4 1079.5 1111.7C1082 1110 1084.5 1108.3 1086.9 1106.5C1089.3 1104.7 1091.6 1102.8 1093.8 1100.8C1096.1 1098.9 1098.2 1096.7 1100.2 1094.6C1102.3 1092.4 1104.2 1090.1 1106 1087.7C1107.9 1085.3 1109.6 1082.9 1111.3 1080.4C1113 1077.9 1114.5 1075.4 1116.1 1072.8C1117.7 1070.3 1119.2 1067.7 1120.7 1065.1C1122.2 1062.5 1123.7 1059.9 1125.2 1057.3C1126.8 1054.7 1128.3 1052.1 1129.8 1049.5C1131.3 1047 1132.8 1044.4 1134.3 1041.8C1135.8 1039.2 1137.4 1036.6 1138.9 1034C1140.4 1031.4 1141.9 1028.8 1143.4 1026.2C1144.8 1023.6 1146.3 1021 1147.8 1018.4C1149.2 1015.8 1150.7 1013.2 1152.1 1010.5C1153.6 1007.9 1155 1005.3 1156.4 1002.6C1157.8 1000 1159.2 997.3 1160.6 994.7C1161.9 992 1163.3 989.3 1164.6 986.6C1165.9 983.9 1167.2 981.2 1168.4 978.5C1169.6 975.7 1170.8 973.2 1172 970.2C1173.5 966.8 1175.1 962.9 1176.7 959.2"/>
<path class="c" stroke-width="2.0" d="M453.5 704C456.5 704.5 459.4 705.1 462.4 705.6C465.3 706.1 468.3 706.6 471.2 707.1C474.2 707.6 477.2 708.1 480.1 708.6C483.1 709.1 486 709.6 489 710.1C492 710.6 494.9 711.1 497.9 711.6C500.9 712.1 503.8 712.6 506.8 713.1C509.7 713.5 512.7 714 515.7 714.5C518.6 715 521.6 715.5 524.5 716C527.5 716.5 530.5 717.1 533.4 717.6C536.4 718.1 539.3 718.6 542.3 719.2C545.2 719.7 548.2 720.3 551.1 720.9C554.1 721.4 557 722 560 722.6C562.9 723.3 565.8 723.9 568.8 724.6C571.7 725.2 574.6 725.9 577.5 726.6C580.4 727.3 583.4 728.1 586.3 728.8C589.2 729.6 592.1 730.4 594.9 731.2C597.8 732.1 600.7 732.9 603.6 733.8C606.5 734.6 609.3 735.5 612.2 736.5C615 737.4 617.9 738.3 620.7 739.3C623.6 740.2 626.4 741.2 629.2 742.2C632.1 743.2 634.9 744.3 637.7 745.3C640.5 746.3 643.3 747.4 646.1 748.5C648.9 749.5 651.7 750.6 654.5 751.7C657.3 752.8 660.1 754 662.9 755.1C665.7 756.3 668.4 757.4 671.2 758.6C673.9 759.9 676.7 761.1 679.4 762.3C682.1 763.6 684.8 764.9 687.5 766.1C690.3 767.4 693 768.7 695.7 770C698.4 771.3 701.1 772.6 703.8 774C706.5 775.3 709.2 776.6 711.8 778C714.5 779.3 717.2 780.6 719.9 782C722.6 783.4 725.2 784.8 727.9 786.2C730.5 787.6 733.2 789 735.8 790.5C738.4 792 741 793.5 743.6 795C746.2 796.5 748.7 798.1 751.3 799.6C753.9 801.2 756.4 802.7 759 804.3C761.5 805.9 764.1 807.5 766.6 809.1C769.2 810.7 771.7 812.3 774.2 813.9C776.7 815.6 779.2 817.2 781.7 819C784.1 820.7 786.5 822.5 788.9 824.4C791.2 826.2 793.6 828.1 795.9 830C798.2 831.9 800.5 833.8 802.8 835.7C805.1 837.7 807.5 839.6 809.7 841.6C811.9 843.6 814.1 845.6 816.3 847.7C818.4 849.8 820.4 852 822.5 854.2C824.6 856.4 826.6 858.6 828.6 860.8C830.6 863.1 832.6 865.3 834.6 867.5C836.6 869.8 838.6 872 840.5 874.4C842.4 876.7 844.3 879 846.1 881.4C848 883.7 849.7 886.2 851.4 888.6C853.2 891.1 854.8 893.6 856.4 896.1C858.1 898.6 859.7 901.2 861.3 903.7C862.9 906.3 864.5 908.8 866 911.4C867.6 913.9 869.2 916.5 870.8 919C872.4 921.6 873.9 924.1 875.5 926.7C877.1 929.3 878.6 931.8 880.1 934.4C881.6 937 883.1 939.6 884.6 942.3C886 944.9 887.4 947.6 888.8 950.2C890.1 952.9 891.4 955.6 892.6 958.4C893.9 961.1 895.1 963.8 896.3 966.6C897.5 969.3 898.7 972.1 899.9 974.9C901.1 977.6 902.3 980.4 903.5 983.1C904.7 985.8 905.9 988.6 907.2 991.3C908.4 994.1 909.7 996.8 910.9 999.5C912.2 1002.3 913.4 1005 914.7 1007.7C916 1010.4 917.3 1013.1 918.6 1015.8C919.8 1018.6 921.1 1021.3 922.4 1024C923.7 1026.7 925 1029.4 926.3 1032.1C927.6 1034.8 928.8 1037.5 930.1 1040.3C931.4 1043 932.7 1045.7 934 1048.4C935.3 1051.1 936.5 1053.8 937.9 1056.5C939.2 1059.2 940.5 1061.9 941.8 1064.6C943.1 1067.3 944.4 1070 945.7 1072.7C947.1 1075.4 948.4 1078.1 949.6 1080.9C950.9 1083.6 952.1 1086.3 953.4 1089C954.6 1091.8 955.8 1094.5 957.1 1097.3C958.3 1100 959.6 1102.7 960.8 1105.4C962.1 1108.1 963.4 1110.8 964.8 1113.5C966.1 1116.2 967.5 1118.9 968.9 1121.5C970.4 1124.2 971.8 1126.8 973.3 1129.4C974.8 1132 976.3 1134.6 977.8 1137.2C979.4 1139.8 981 1142.3 982.6 1144.8C984.2 1147.3 985.9 1149.8 987.6 1152.3C989.4 1154.8 991.1 1157.2 993 1159.6C994.8 1162 996.7 1164.4 998.7 1166.7C1000.6 1168.9 1002.7 1171.2 1004.9 1173.2C1007.1 1175.2 1009.5 1177.2 1012 1178.7C1014.5 1180.2 1017.3 1181.6 1020.1 1182.3C1022.8 1183.1 1025.9 1183.4 1028.7 1183.2C1031.6 1183.1 1034.6 1182.4 1037.4 1181.5C1040.2 1180.5 1042.9 1179.1 1045.5 1177.5C1048 1176 1050.4 1174.1 1052.8 1172.2C1055.1 1170.3 1057.3 1168.2 1059.4 1166.1C1061.6 1164 1063.7 1161.8 1065.8 1159.6C1067.8 1157.5 1069.9 1155.3 1072 1153.1C1074 1150.9 1076.3 1148.5 1078.2 1146.6C1079.7 1145 1080.9 1143.7 1082.3 1142.2"/>
<path class="c" stroke-width="2.0" d="M750.5 806.3C753 807.9 755.6 809.5 758.1 811.1C760.6 812.7 763.2 814.4 765.6 816C768.1 817.7 770.6 819.4 773 821.2C775.5 823 777.9 824.7 780.2 826.6C782.5 828.5 784.8 830.5 787 832.5C789.2 834.5 791.4 836.6 793.5 838.7C795.6 840.9 797.7 843 799.8 845.2C801.9 847.4 803.9 849.6 805.9 851.8C807.9 854 809.8 856.3 811.7 858.6C813.7 860.9 815.6 863.2 817.5 865.5C819.4 867.9 821.3 870.2 823.2 872.5C825.1 874.9 826.9 877.2 828.7 879.6C830.5 882 832.3 884.5 834 886.9C835.8 889.3 837.5 891.8 839.2 894.3C840.9 896.7 842.6 899.2 844.3 901.7C846 904.2 847.6 906.7 849.3 909.2C851 911.7 852.7 914.1 854.5 916.6C856.2 919 858 921.4 859.8 923.8C861.6 926.2 863.5 928.6 865.2 931C866.9 933.5 868.6 936 870.1 938.5C871.7 941.1 873.1 943.7 874.5 946.4C875.9 949 877.2 951.7 878.5 954.5C879.8 957.2 881 959.9 882.1 962.7C883.3 965.4 884.4 968.2 885.6 971C886.7 973.8 887.8 976.6 888.9 979.4C889.9 982.2 891 985 892.1 987.8C893.1 990.6 894.2 993.4 895.2 996.2C896.3 999.1 897.3 1001.9 898.4 1004.7C899.4 1007.5 900.5 1010.3 901.6 1013.1C902.7 1015.9 903.8 1018.7 904.9 1021.5C906 1024.3 907.1 1027.1 908.1 1029.9C909.2 1032.7 910.3 1035.5 911.4 1038.3C912.5 1041.1 913.5 1043.9 914.6 1046.7C915.6 1049.5 916.7 1052.3 917.7 1055.1C918.7 1057.9 919.7 1060.8 920.7 1063.6C921.7 1066.4 922.7 1069.3 923.6 1072.1C924.6 1075 925.5 1077.8 926.5 1080.6C927.6 1083.5 928.6 1086.3 929.7 1089.1C930.7 1091.9 931.8 1094.7 932.8 1097.5C933.9 1100.3 934.9 1103.1 935.9 1106C936.9 1108.8 937.8 1111.7 938.8 1114.5C939.8 1117.3 940.7 1120.2 941.7 1123C942.7 1125.9 943.6 1128.7 944.7 1131.5C945.7 1134.4 946.7 1137.2 947.8 1140C948.8 1142.8 949.9 1145.6 951.1 1148.4C952.2 1151.1 953.4 1153.9 954.7 1156.6C956 1159.3 957.3 1162 958.6 1164.7C960 1167.4 961.4 1170 963 1172.6C964.5 1175.2 966.1 1177.7 967.9 1180.2C969.7 1182.6 971.5 1185 973.5 1187.2C975.5 1189.5 977.6 1191.7 979.9 1193.6C982.2 1195.5 984.7 1197.3 987.3 1198.7C989.9 1200.1 992.7 1201.2 995.6 1201.8C998.4 1202.5 1001.4 1202.7 1004.4 1202.6C1007.3 1202.5 1010.2 1201.8 1013.1 1201C1016 1200.3 1018.8 1199.1 1021.7 1198.1C1024.5 1197.1 1027.3 1196 1030.1 1194.9C1032.9 1193.8 1035.7 1192.7 1038.4 1191.4C1041.1 1190.1 1043.8 1188.7 1046.2 1187C1048.7 1185.3 1051 1183.4 1053.2 1181.4C1055.4 1179.4 1057.4 1177.2 1059.5 1175C1061.6 1172.8 1063.5 1170.5 1065.5 1168.3C1067.6 1166.1 1069.6 1163.8 1071.7 1161.7C1073.7 1159.5 1076.1 1157.2 1078 1155.3C1079.6 1153.7 1080.9 1152.5 1082.3 1151.1"/>
<path class="c" stroke-width="2.0" d="M709.2 798.2C711.9 799.6 714.5 801 717.2 802.4C719.8 803.8 722.4 805.3 725 806.8C727.6 808.3 730.1 809.9 732.6 811.6C735.1 813.2 737.6 814.9 740 816.6C742.5 818.3 744.9 820.1 747.3 821.9C749.7 823.7 752 825.6 754.3 827.6C756.6 829.5 758.8 831.5 761 833.5C763.2 835.5 765.5 837.5 767.7 839.6C769.9 841.6 772.1 843.6 774.3 845.7C776.4 847.8 778.5 849.9 780.5 852.1C782.6 854.3 784.5 856.6 786.4 858.9C788.4 861.2 790.2 863.5 792.1 865.9C793.9 868.2 795.8 870.6 797.6 873C799.4 875.3 801.3 877.7 803.1 880.1C804.9 882.5 806.7 884.9 808.5 887.3C810.2 889.7 811.9 892.2 813.6 894.7C815.3 897.1 817 899.6 818.6 902.1C820.3 904.6 821.9 907.2 823.5 909.7C825 912.2 826.6 914.8 828.1 917.4C829.6 920 831 922.6 832.4 925.3C833.8 927.9 835.1 930.6 836.4 933.3C837.8 936 839.1 938.7 840.4 941.4C841.7 944.1 843 946.8 844.3 949.5C845.6 952.2 846.9 954.9 848.1 957.6C849.4 960.3 850.6 963.1 851.8 965.8C853 968.6 854.2 971.3 855.4 974.1C856.6 976.8 857.8 979.5 859 982.3C860.2 985.1 861.3 987.8 862.5 990.6C863.6 993.4 864.7 996.2 865.7 999C866.7 1001.8 867.7 1004.6 868.7 1007.4C869.8 1010.3 870.8 1013.1 871.8 1015.9C872.8 1018.7 873.9 1021.5 874.9 1024.3C876 1027.1 877 1029.9 878.1 1032.8C879.1 1035.6 880.1 1038.4 881 1041.2C882 1044.1 882.9 1046.9 883.7 1049.8C884.6 1052.7 885.3 1055.6 886 1058.5C886.8 1061.4 887.4 1064.3 888.1 1067.2C888.8 1070.1 889.6 1073.1 890.3 1076C891 1078.9 891.8 1081.8 892.6 1084.7C893.3 1087.5 894.1 1090.4 894.9 1093.3C895.8 1096.2 896.6 1099.1 897.5 1101.9C898.4 1104.8 899.4 1107.6 900.3 1110.5C901.3 1113.3 902.3 1116.1 903.1 1119C904 1121.9 904.8 1124.8 905.6 1127.6C906.4 1130.5 907.1 1133.4 907.9 1136.3C908.7 1139.2 909.4 1142.1 910.2 1145C911 1147.9 911.9 1150.8 912.7 1153.7C913.5 1156.5 914.4 1159.4 915.2 1162.3C916 1165.2 916.9 1168.1 917.7 1170.9C918.6 1173.8 919.5 1176.7 920.3 1179.5C921.2 1182.4 922.1 1185.2 923.1 1188.1C924 1190.9 924.9 1193.8 925.9 1196.6C926.8 1199.5 927.8 1202.3 928.7 1205.2C929.7 1208 930.6 1210.9 931.5 1213.7C932.5 1216.5 933.4 1219.4 934.4 1222.2C935.3 1225.1 936.3 1227.9 937.3 1230.7C938.4 1233.5 939.4 1236.3 940.5 1239.1C941.7 1241.9 942.8 1244.7 944.1 1247.4C945.4 1250.1 946.7 1252.9 948.4 1255.4C950.1 1257.8 951.9 1260.4 954.1 1262.3C956.3 1264.1 958.9 1265.8 961.7 1266.7C964.4 1267.6 967.5 1267.9 970.4 1267.7C973.3 1267.5 976.2 1266.6 978.9 1265.3C981.6 1264.1 984 1262.2 986.4 1260.4C988.8 1258.6 991 1256.5 993.3 1254.5C995.5 1252.6 997.9 1250.7 1000.1 1248.7C1002.3 1246.7 1004.5 1244.7 1006.6 1242.5C1008.7 1240.4 1010.5 1238 1012.5 1235.8C1014.5 1233.6 1016.5 1231.3 1018.6 1229.3C1020.8 1227.2 1023.1 1225.3 1025.4 1223.3C1027.6 1221.3 1029.9 1219.4 1032 1217.3C1034.2 1215.2 1036.2 1213 1038.1 1210.7C1040.1 1208.5 1042 1206.1 1043.8 1203.8C1045.7 1201.4 1047.5 1199 1049.3 1196.6C1051.1 1194.2 1052.8 1191.8 1054.6 1189.4C1056.3 1186.9 1058.1 1184.5 1059.9 1182.1C1061.7 1179.7 1063.5 1177.3 1065.4 1175C1067.2 1172.6 1069 1170.2 1070.9 1167.9C1072.7 1165.5 1074.6 1163.2 1076.5 1160.9C1078.4 1158.6 1080.4 1156.3 1082.3 1154"/>
<path class="c" stroke-width="2.0" d="M453.5 720.2C456.4 720.8 459.4 721.5 462.3 722.1C465.2 722.7 468.2 723.3 471.1 723.9C474 724.5 477 725.1 479.9 725.7C482.9 726.3 485.8 726.8 488.8 727.4C491.7 728 494.7 728.5 497.6 729.1C500.6 729.7 503.5 730.2 506.4 730.8C509.4 731.4 512.3 731.9 515.3 732.5C518.2 733.1 521.2 733.7 524.1 734.3C527 734.9 530 735.5 532.9 736.1C535.9 736.7 538.8 737.3 541.7 738C544.6 738.7 547.6 739.3 550.5 740C553.4 740.7 556.3 741.4 559.2 742.2C562.1 743 565 743.7 567.9 744.6C570.8 745.4 573.7 746.2 576.5 747.2C579.4 748.1 582.2 749 585 750C587.9 751.1 590.7 752.1 593.4 753.3C596.2 754.4 599 755.6 601.7 756.8C604.5 758 607.2 759.2 609.9 760.5C612.6 761.7 615.4 763 618 764.4C620.7 765.7 623.4 767 626.1 768.4C628.8 769.7 631.4 771.1 634.1 772.5C636.8 773.9 639.4 775.3 642.1 776.7C644.7 778.1 647.4 779.5 650.1 780.8C652.7 782.2 655.4 783.5 658.1 784.8C660.8 786.1 663.5 787.4 666.2 788.7C668.9 790 671.6 791.4 674.2 792.8C676.9 794.3 679.4 795.8 682 797.4C684.6 798.9 687.1 800.6 689.6 802.2C692.1 803.8 694.6 805.4 697.2 807.1C699.7 808.7 702.2 810.3 704.8 811.9C707.3 813.5 709.8 815.2 712.2 816.9C714.7 818.6 717.2 820.3 719.6 822.1C722 823.8 724.4 825.6 726.8 827.5C729.2 829.3 731.5 831.2 733.8 833.1C736.1 835.1 738.3 837.1 740.5 839.1C742.7 841.2 744.9 843.3 747 845.4C749.1 847.5 751.2 849.7 753.2 851.9C755.3 854 757.3 856.3 759.2 858.5C761.2 860.8 763.1 863.1 765 865.5C766.8 867.8 768.6 870.2 770.4 872.6C772.2 875 774 877.4 775.8 879.9C777.5 882.3 779.3 884.8 781 887.2C782.7 889.7 784.4 892.1 786.1 894.6C787.8 897.1 789.5 899.6 791.1 902.1C792.8 904.5 794.5 907 796.3 909.5C798 911.9 799.9 914.3 801.6 916.7C803.4 919.2 805.1 921.6 806.7 924.1C808.3 926.7 809.7 929.3 811.2 931.9C812.6 934.6 814 937.2 815.4 939.9C816.7 942.6 818.1 945.3 819.3 948C820.6 950.7 821.8 953.4 822.9 956.2C824 959 824.9 961.9 825.8 964.8C826.7 967.6 827.4 970.5 828.4 973.4C829.3 976.2 830.4 979 831.5 981.8C832.6 984.6 833.9 987.3 835 990.1C836 992.9 836.9 995.8 837.9 998.6C838.8 1001.5 839.6 1004.4 840.4 1007.2C841.3 1010.1 842.2 1013 843.1 1015.8C844 1018.7 845 1021.5 845.9 1024.4C846.8 1027.3 847.6 1030.1 848.4 1033C849.2 1035.9 849.9 1038.8 850.7 1041.8C851.4 1044.7 852 1047.6 852.7 1050.5C853.4 1053.4 854 1056.4 854.6 1059.3C855.2 1062.2 855.8 1065.2 856.3 1068.1C856.9 1071.1 857.4 1074 857.9 1077C858.4 1080 858.8 1082.9 859.3 1085.9C859.7 1088.9 860.2 1091.8 860.6 1094.8C861.1 1097.8 861.5 1100.7 861.9 1103.7C862.3 1106.7 862.7 1109.6 863.1 1112.6C863.4 1115.6 863.8 1118.6 864.1 1121.6C864.4 1124.5 864.7 1127.5 865 1130.5C865.3 1133.5 865.6 1136.5 865.9 1139.5C866.3 1142.4 866.7 1145.4 867.1 1148.4C867.5 1151.4 868 1154.3 868.5 1157.3C868.9 1160.3 869.4 1163.2 869.8 1166.2C870.2 1169.2 870.6 1172.1 871 1175.1C871.4 1178.1 871.8 1181.1 872.1 1184C872.5 1187 872.8 1190 873.1 1193C873.4 1196 873.6 1199 873.8 1202C874 1204.9 874.2 1207.9 874.5 1210.9C874.7 1213.9 875.1 1216.9 875.4 1219.9C875.8 1222.9 876.2 1225.8 876.6 1228.8C877 1231.8 877.4 1234.7 877.7 1237.7C878 1240.7 878.3 1243.7 878.5 1246.7C878.7 1249.7 878.9 1252.7 879 1255.7C879.1 1258.7 879.2 1261.7 879.2 1264.7C879.2 1267.7 879.2 1270.7 879.2 1273.7C879.2 1276.7 879.2 1279.7 879.2 1282.7C879.2 1285.7 879.2 1288.7 879.3 1291.7C879.3 1294.7 879.4 1297.7 879.5 1300.7C879.7 1303.7 879.7 1306.7 880.3 1309.7C880.8 1312.6 881.4 1315.7 882.8 1318.2C884.2 1320.8 886.2 1323.2 888.5 1325C890.8 1326.7 893.7 1328 896.5 1328.8C899.4 1329.7 902.4 1330 905.4 1330.3C908.4 1330.6 911.4 1330.9 914.5 1330.9C917.4 1330.9 920.5 1331 923.4 1330.4C926.3 1329.8 929.1 1328.7 931.7 1327.3C934.3 1326 936.8 1324.1 939.2 1322.4C941.7 1320.6 944 1318.8 946.4 1316.9C948.7 1315 951 1313 953.2 1311C955.4 1309 957.6 1306.9 959.7 1304.8C961.9 1302.7 963.9 1300.5 966.1 1298.4C968.2 1296.3 970.3 1294.2 972.5 1292.2C974.7 1290.1 977 1288.1 979.1 1286.1C981.3 1284 983.4 1281.9 985.6 1279.8C987.7 1277.7 989.8 1275.5 991.9 1273.4C994 1271.3 996 1269.3 998.3 1267C1000.9 1264.4 1004.1 1261.5 1007 1258.8"/>
<path class="c" stroke-width="2.0" d="M453.5 721.7C456.4 722.5 459.3 723.3 462.1 724.2C465 725 467.9 725.8 470.8 726.6C473.7 727.4 476.5 728.2 479.4 728.9C482.3 729.7 485.2 730.5 488.1 731.3C491 732.1 493.9 732.8 496.8 733.6C499.7 734.4 502.5 735.2 505.4 735.9C508.3 736.7 511.2 737.5 514.1 738.3C517 739.1 519.9 739.8 522.8 740.6C525.6 741.4 528.5 742.2 531.4 743C534.3 743.8 537.2 744.6 540 745.5C542.9 746.3 545.8 747.1 548.7 748C551.5 748.8 554.4 749.7 557.3 750.5C560.1 751.4 563 752.3 565.8 753.2C568.7 754.2 571.5 755.1 574.3 756.1C577.2 757.1 580 758.1 582.8 759.2C585.5 760.3 588.3 761.4 591.1 762.6C593.8 763.7 596.6 765 599.3 766.2C602 767.5 604.7 768.8 607.4 770.1C610 771.4 612.7 772.8 615.4 774.2C618 775.6 620.7 776.9 623.3 778.4C625.9 779.8 628.5 781.3 631.1 782.8C633.7 784.3 636.2 785.9 638.7 787.5C641.2 789.2 643.7 790.9 646.1 792.6C648.6 794.3 651 796 653.5 797.8C655.9 799.5 658.3 801.3 660.7 803.1C663.1 804.9 665.5 806.6 667.9 808.5C670.2 810.3 672.6 812.2 674.9 814.1C677.2 816 679.5 817.9 681.7 819.9C684 821.8 686.2 823.8 688.5 825.8C690.8 827.7 693 829.7 695.4 831.5C697.7 833.4 700.1 835.2 702.4 837.1C704.7 839 707.1 840.8 709.4 842.7C711.7 844.6 714 846.6 716.2 848.6C718.4 850.6 720.6 852.6 722.8 854.7C724.9 856.7 727.1 858.8 729.2 860.9C731.4 863 733.5 865.1 735.5 867.3C737.6 869.5 739.6 871.7 741.6 873.9C743.6 876.2 745.5 878.4 747.4 880.8C749.2 883.1 751 885.5 752.8 887.9C754.6 890.3 756.2 892.8 758 895.3C759.7 897.7 761.4 900.2 763.1 902.6C764.8 905.1 766.6 907.5 768.3 909.9C770.1 912.4 771.8 914.8 773.4 917.3C775.1 919.8 776.7 922.3 778.2 924.9C779.8 927.4 781.3 930 782.6 932.7C784 935.3 785.3 938 786.6 940.8C787.8 943.5 788.9 946.2 790.1 949C791.3 951.7 792.5 954.5 793.7 957.2C794.9 960 796.1 962.7 797.4 965.4C798.6 968.2 799.8 970.9 801 973.6C802.2 976.4 803.4 979.1 804.6 981.9C805.7 984.6 806.9 987.4 808 990.2C809.1 993 810.1 995.8 811.1 998.6C812.1 1001.4 813.1 1004.2 814 1007.1C814.8 1009.9 815.7 1012.8 816.5 1015.7C817.2 1018.6 818 1021.5 818.6 1024.4C819.3 1027.3 819.9 1030.3 820.4 1033.2C820.9 1036.1 821.4 1039.4 821.8 1042.1C822.1 1044.2 822.3 1046 822.6 1048"/>
<path class="c" stroke-width="2.0" d="M453.5 732.6C456.3 733.7 459.1 734.8 461.9 735.8C464.7 736.9 467.5 738 470.3 739.1C473.1 740.1 475.9 741.2 478.7 742.3C481.5 743.4 484.3 744.4 487.1 745.5C489.9 746.6 492.8 747.6 495.6 748.7C498.4 749.8 501.2 750.8 504 751.9C506.8 752.9 509.6 754 512.4 755.1C515.2 756.1 518 757.2 520.8 758.3C523.6 759.4 526.4 760.4 529.2 761.5C532 762.6 534.8 763.6 537.6 764.7C540.4 765.8 543.2 766.9 546 768C548.8 769 551.6 770.1 554.4 771.2C557.2 772.3 560 773.4 562.8 774.5C565.6 775.7 568.4 776.8 571.2 777.9C573.9 779.1 576.7 780.2 579.5 781.4C582.2 782.6 585 783.8 587.7 785.1C590.4 786.4 593.1 787.8 595.7 789.2C598.4 790.5 601 792 603.7 793.4C606.3 794.8 608.9 796.3 611.5 797.8C614.1 799.3 616.7 800.8 619.3 802.4C621.9 803.9 624.4 805.4 627 807C629.5 808.6 632.1 810.2 634.6 811.9C637.1 813.5 639.6 815.2 642 817C644.4 818.8 646.8 820.6 649.1 822.5C651.5 824.3 653.9 826.2 656.2 828.1C658.5 829.9 660.9 831.8 663.2 833.7C665.5 835.6 667.9 837.5 670.2 839.5C672.5 841.4 674.7 843.3 677 845.3C679.3 847.3 681.5 849.3 683.7 851.3C685.9 853.3 688.1 855.4 690.3 857.5C692.4 859.6 694.5 861.7 696.6 863.9C698.8 866 700.9 868.1 703 870.2C705.1 872.4 707.3 874.5 709.3 876.7C711.3 878.9 713.4 881.1 715.3 883.4C717.2 885.7 718.9 888.2 720.6 890.6C722.3 893.1 723.7 895.8 725.3 898.3C726.9 900.9 728.6 903.3 730.1 905.9C731.7 908.4 733.3 911 734.6 913.7C736 916.3 737.1 919.1 738.2 921.9C739.4 924.7 740.5 927.8 741.4 930.3C742.2 932.4 742.7 934.1 743.3 936"/>
<path class="c" stroke-width="2.0" d="M453.5 755.2C456.2 756.5 458.9 757.9 461.5 759.2C464.2 760.5 466.9 761.8 469.6 763.2C472.2 764.5 474.9 765.8 477.6 767.2C480.3 768.5 483 769.8 485.6 771.1C488.3 772.5 491 773.8 493.7 775.1C496.3 776.4 499 777.7 501.7 779.1C504.4 780.4 507.1 781.7 509.8 783C512.4 784.3 515.1 785.6 517.8 787C520.5 788.3 523.1 789.7 525.8 791C528.5 792.4 531.1 793.8 533.8 795.2C536.4 796.6 539 798 541.7 799.4C544.3 800.8 546.9 802.2 549.6 803.6C552.2 805.1 554.9 806.4 557.4 808C560 809.5 562.5 811.1 564.7 813C567 815 568.8 817.4 570.8 819.6"/>
<path class="c" stroke-width="2.0" d="M453.5 777.4C456.3 778.4 459.2 779.4 462 780.4C464.8 781.4 467.6 782.3 470.5 783.3C473.3 784.3 476.1 785.3 479 786.3C481.8 787.3 484.6 788.3 487.4 789.3C490.2 790.3 493.1 791.4 495.9 792.4C498.7 793.4 501.5 794.5 504.3 795.5C507.1 796.6 509.9 797.6 512.7 798.7C515.5 799.7 518.3 800.8 521.1 801.9C523.9 802.9 526.7 804 529.6 805C532.4 806.1 535.2 807.1 538 808.1C540.8 809.2 543.6 810.2 546.4 811.2C549.3 812.2 552.1 813.2 554.9 814.3C557.7 815.4 560.5 816.5 563.3 817.6C566 818.7 568.8 819.8 571.6 820.9C574.4 822.1 577.1 823.2 579.9 824.4C582.6 825.6 585.4 826.8 588.1 828C590.9 829.2 593.6 830.4 596.3 831.7C599 833 601.7 834.3 604.4 835.6C607.1 837 609.7 838.4 612.4 839.8C615 841.2 617.6 842.7 620.2 844.1C622.8 845.6 625.4 847.1 628 848.7C630.6 850.2 633.1 851.8 635.7 853.4C638.2 854.9 640.8 856.5 643.3 858.1C645.9 859.7 648.4 861.2 650.9 862.9C653.5 864.5 656 866.1 658.5 867.8C660.9 869.5 663.4 871.2 665.8 872.9C668.3 874.6 670.7 876.4 673.2 878.1C675.6 879.9 678 881.6 680.5 883.4C682.9 885.1 685.3 886.9 687.7 888.7C690.1 890.5 692.5 892.3 694.9 894.1C697.3 895.8 699.8 897.6 702.1 899.4C704.5 901.3 706.9 903.1 709.2 905C711.5 906.9 713.8 908.8 716.1 910.8C718.4 912.7 720.6 914.7 722.8 916.8C725 918.8 727.2 920.8 729.4 922.9C731.6 924.9 733.8 927 735.9 929.1C738.1 931.1 740.2 933.2 742.4 935.3C744.5 937.4 746.7 939.5 748.8 941.6C750.9 943.7 753 945.8 755.1 948C757.2 950.2 759.2 952.3 761.3 954.6C763.3 956.8 765.3 959 767.2 961.3C769.1 963.6 771 965.9 772.8 968.3C774.7 970.7 776.5 973.1 778.3 975.5C780 977.9 781.7 980.4 783.4 982.8C785.1 985.3 786.8 987.8 788.4 990.3C790.1 992.8 791.7 995.3 793.3 997.8C795 1000.4 796.6 1002.9 798.2 1005.4C799.8 1008 801.4 1010.5 802.9 1013.1C804.4 1015.7 805.9 1018.3 807.3 1020.9C808.8 1023.5 810.2 1026.2 811.6 1028.8C813.1 1031.4 814.6 1034 816 1036.6C817.5 1039.2 819 1041.8 820.5 1044.4C821.9 1047.1 823.3 1049.7 824.7 1052.4C826 1055.1 827.2 1057.8 828.5 1060.5C829.7 1063.2 830.9 1066 832.1 1068.7C833.3 1071.5 834.5 1074.3 835.7 1077C836.9 1079.7 838.2 1082.5 839.4 1085.2C840.7 1087.9 842.1 1090.6 843.3 1093.3C844.5 1096 845.8 1098.8 846.8 1101.6C847.9 1104.3 848.8 1107.2 849.7 1110.1C850.6 1112.9 851.4 1115.8 852.3 1118.7C853.2 1121.5 854.1 1124.4 855.1 1127.2C856 1130.1 857.1 1132.9 858 1135.7C859 1138.6 859.9 1141.4 860.7 1144.3C861.6 1147.2 862.4 1150.1 863.1 1153C863.9 1155.9 864.5 1158.8 865.2 1161.7C865.9 1164.6 866.5 1167.6 867.1 1170.5C867.7 1173.4 868.2 1176.4 868.7 1179.3C869.2 1182.3 869.6 1185.3 870 1188.2C870.4 1191.2 870.8 1194.2 871.3 1197.1C871.8 1200.1 872.4 1203 873 1206C873.6 1208.9 874.2 1211.8 874.8 1214.8C875.3 1217.7 875.7 1220.7 876.1 1223.6C876.5 1226.6 876.9 1229.6 877.2 1232.6C877.5 1235.6 877.8 1238.5 878.1 1241.5C878.4 1244.5 878.6 1247.5 878.8 1250.5C878.9 1253.5 879.1 1256.5 879.1 1259.5C879.2 1262.5 879.3 1265.5 879.3 1268.5C879.3 1271.5 879.3 1274.5 879.2 1277.4C879.2 1280.4 879.1 1283.4 879 1286.4C878.9 1289.4 878.7 1292.4 878.4 1295.4C878.2 1298.4 877.8 1301.4 877.4 1304.3C877 1307.3 876.6 1310.3 876.1 1313.2C875.7 1316.2 875.2 1319.2 874.6 1322.1C874.1 1325 873.5 1328 872.8 1330.9C872.1 1333.8 871.4 1336.7 870.5 1339.6C869.7 1342.5 868.8 1345.3 867.8 1348.2C866.9 1351 865.8 1353.8 864.7 1356.6C863.6 1359.4 862.5 1362.2 861.3 1364.9C860.1 1367.7 858.9 1370.4 857.5 1373C856 1375.6 854.2 1378.1 852.5 1380.5C850.7 1382.9 848.7 1385.1 846.8 1387.5C845 1389.8 843.2 1392.2 841.4 1394.6C839.5 1397 837.8 1399.5 835.9 1401.7C833.9 1404 831.9 1406.2 829.7 1408.3C827.5 1410.3 825.2 1412.2 822.7 1413.9C820.3 1415.6 817.7 1417.1 815 1418.5C812.4 1420 809.7 1421.3 807.1 1422.7C804.4 1424 801.7 1425.3 799 1426.6C796.3 1427.9 793.6 1429.2 790.9 1430.5C788.2 1431.8 785.4 1433 782.7 1434.2C780 1435.5 777.2 1436.7 774.5 1438C771.8 1439.2 769.1 1440.5 766.4 1441.7C763.6 1443 760.9 1444.3 758.2 1445.6C755.6 1446.9 752.9 1448.4 750.3 1449.8C747.6 1451.1 745 1452.6 742.3 1453.8C739.6 1455.1 736.7 1456.1 733.9 1457.1C731.1 1458.1 728.2 1459 725.4 1459.9C722.5 1460.8 719.6 1461.6 716.8 1462.5C713.9 1463.3 711 1464.2 708.1 1465C705.3 1465.8 702.4 1466.6 699.5 1467.4C696.6 1468.1 693.7 1468.8 690.7 1469.6C687.8 1470.3 684.9 1471 682 1471.8C679.1 1472.6 676.2 1473.3 673.3 1474.1C670.5 1474.9 667.6 1475.7 664.7 1476.4C661.8 1477.2 658.8 1477.9 655.9 1478.6C653 1479.3 650.1 1479.9 647.2 1480.6C644.2 1481.3 641.3 1481.9 638.4 1482.5C635.5 1483.1 632.5 1483.7 629.6 1484.3C626.6 1484.8 623.7 1485.4 620.7 1485.9C617.8 1486.4 614.8 1486.8 611.8 1487.3C608.9 1487.7 605.9 1488.2 602.9 1488.6C600 1489 597 1489.3 594 1489.7C591.1 1490.1 588.1 1490.4 585.1 1490.7C582.1 1491.1 579.1 1491.4 576.2 1491.7C573.2 1492 570.2 1492.3 567.2 1492.5C564.2 1492.8 561.2 1493 558.2 1493.2C555.3 1493.5 552.3 1493.7 549.3 1493.9C546.3 1494.1 543.3 1494.2 540.3 1494.4C537.3 1494.6 534.3 1494.8 531.3 1494.9C528.3 1495.1 525.3 1495.3 522.3 1495.4C519.4 1495.6 516.4 1495.7 513.4 1495.9C510.4 1496 507.4 1496.2 504.4 1496.4C501.4 1496.5 498.4 1496.7 495.4 1496.8C492.4 1497 489.4 1497.1 486.4 1497.3C483.4 1497.4 480.4 1497.6 477.5 1497.7C474.5 1497.8 471.5 1498 468.5 1498.1C465.5 1498.2 462.2 1498.4 459.5 1498.5C457.3 1498.6 455.5 1498.7 453.5 1498.8"/>
<path class="c" stroke-width="2.0" d="M1263.3 271C1262.9 274 1262.5 276.9 1262.1 279.9C1261.7 282.9 1261.3 285.9 1260.9 288.8C1260.5 291.8 1260.1 294.8 1259.7 297.8C1259.3 300.7 1258.9 303.7 1258.5 306.7C1258.2 309.7 1257.8 312.6 1257.4 315.6C1257 318.6 1256.6 321.6 1256.2 324.5C1255.8 327.5 1255.4 330.5 1255 333.5C1254.7 336.5 1254.3 339.4 1253.9 342.4C1253.5 345.4 1253.1 348.4 1252.7 351.3C1252.3 354.3 1251.9 357.3 1251.5 360.3C1251.2 363.2 1250.8 366.2 1250.4 369.2C1250 372.2 1249.6 375.1 1249.2 378.1C1248.8 381.1 1248.4 384 1247.9 387C1247.5 390 1247.1 393 1246.6 395.9C1246.2 398.9 1245.7 401.9 1245.3 404.8C1244.8 407.8 1244.3 410.8 1243.8 413.7C1243.4 416.7 1242.9 419.6 1242.4 422.6C1242 425.6 1241.5 428.5 1241.1 431.5C1240.6 434.5 1240.2 437.4 1239.8 440.4C1239.4 443.4 1239 446.4 1238.6 449.3C1238.2 452.3 1237.9 455.3 1237.5 458.3C1237.1 461.2 1236.7 464.2 1236.3 467.2C1235.9 470.2 1235.4 473.1 1234.9 476.1C1234.4 479 1233.9 482 1233.3 484.9C1232.7 487.9 1232.1 490.8 1231.5 493.8C1230.9 496.7 1230.2 499.6 1229.6 502.6C1228.9 505.5 1228.3 508.4 1227.7 511.4C1227.1 514.3 1226.5 517.2 1225.9 520.2C1225.3 523.1 1224.8 526.1 1224.2 529C1223.7 532 1223.2 534.9 1222.7 537.9C1222.1 540.8 1221.6 543.8 1221.1 546.8C1220.6 549.7 1220.1 552.7 1219.6 555.6C1219 558.6 1218.5 561.5 1218 564.5C1217.4 567.4 1216.9 570.4 1216.3 573.3C1215.8 576.3 1215.2 579.2 1214.6 582.2C1214.1 585.1 1213.5 588.1 1212.9 591C1212.4 594 1211.8 596.9 1211.2 599.9C1210.6 602.8 1210.1 605.7 1209.5 608.7C1208.9 611.6 1208.3 614.6 1207.7 617.5C1207.1 620.5 1206.6 623.4 1206 626.3C1205.4 629.3 1204.8 632.2 1204.1 635.2C1203.5 638.1 1202.9 641 1202.3 644C1201.6 646.9 1201 649.8 1200.4 652.8C1199.7 655.7 1199 658.6 1198.4 661.5C1197.7 664.5 1197.1 667.4 1196.4 670.3C1195.8 673.3 1195.1 676.2 1194.5 679.1C1193.9 682.1 1193.2 685 1192.6 687.9C1192 690.9 1191.4 693.8 1190.8 696.7C1190.2 699.7 1189.6 702.6 1189 705.6C1188.4 708.5 1187.8 711.4 1187.2 714.4C1186.6 717.3 1185.9 720.3 1185.3 723.2C1184.7 726.1 1184.1 729.1 1183.5 732C1182.9 734.9 1182.2 737.9 1181.6 740.8C1181 743.7 1180.3 746.7 1179.7 749.6C1179 752.5 1178.4 755.5 1177.7 758.4C1177 761.3 1176.3 764.2 1175.5 767.1C1174.8 770 1174 772.9 1173.3 775.8C1172.5 778.7 1171.7 781.6 1171 784.5C1170.2 787.4 1169.4 790.3 1168.7 793.2C1167.9 796.1 1167.2 799.1 1166.5 802C1165.7 804.9 1165 807.8 1164.2 810.7C1163.5 813.6 1162.7 816.5 1161.9 819.4C1161 822.2 1160.1 825.1 1159.2 828C1158.3 830.8 1157.3 833.6 1156.3 836.5C1155.4 839.3 1154.4 842.2 1153.4 845C1152.5 847.8 1151.5 850.7 1150.7 853.6C1149.8 856.4 1148.9 859.3 1148.1 862.2C1147.2 865.1 1146.4 868 1145.6 870.9C1144.8 873.7 1144 876.6 1143.2 879.5C1142.4 882.4 1141.6 885.3 1140.7 888.2C1139.8 891 1138.9 893.9 1138 896.8C1137.1 899.6 1136.2 902.5 1135.3 905.3C1134.4 908.2 1133.5 911.1 1132.6 913.9C1131.7 916.8 1130.8 919.7 1130 922.5C1129.1 925.4 1128.3 928.3 1127.4 931.2C1126.6 934 1125.7 936.9 1124.8 939.8C1124 942.7 1123.1 945.5 1122.2 948.4C1121.3 951.3 1120.4 954.1 1119.5 957C1118.6 959.9 1117.8 962.7 1116.9 965.6C1116 968.5 1115.1 971.3 1114.2 974.2C1113.3 977.1 1112.4 979.9 1111.5 982.8C1110.6 985.6 1109.7 988.5 1108.7 991.3C1107.7 994.2 1106.7 997 1105.7 999.8C1104.7 1002.6 1103.6 1005.4 1102.6 1008.3C1101.5 1011.1 1100.5 1013.9 1099.4 1016.7C1098.3 1019.5 1097.3 1022.3 1096.2 1025.1C1095.2 1027.9 1094.1 1030.7 1093.1 1033.5C1092.1 1036.4 1091 1039.2 1090 1042C1089 1044.8 1088 1047.7 1087 1050.5C1085.9 1053.3 1084.9 1056.1 1083.8 1058.9C1082.8 1061.7 1081.7 1064.5 1080.6 1067.3C1079.4 1070.1 1078.3 1072.9 1077.1 1075.6C1075.9 1078.4 1074.7 1081.1 1073.5 1083.9C1072.3 1086.6 1071.1 1089.4 1069.8 1092.1C1068.6 1094.8 1067.3 1097.5 1066.1 1100.3C1064.8 1103 1063.6 1105.7 1062.3 1108.5C1061.1 1111.2 1059.8 1113.9 1058.6 1116.7C1057.4 1119.4 1056.2 1122.1 1055 1124.9C1053.8 1127.7 1052.6 1130.4 1051.5 1133.2C1050.3 1136 1049.2 1138.7 1048.1 1141.5C1046.9 1144.3 1045.8 1147.1 1044.6 1149.8C1043.3 1152.5 1042.1 1155.2 1040.8 1157.9C1039.4 1160.6 1038 1163.2 1036.6 1165.9C1035.1 1168.5 1033.6 1171.1 1032.1 1173.7C1030.6 1176.2 1029 1178.8 1027.4 1181.4C1025.9 1183.9 1024.3 1186.5 1022.7 1189C1021.1 1191.5 1019.4 1194.1 1017.8 1196.6C1016.1 1199.1 1014.5 1201.6 1012.8 1204.1C1011.1 1206.5 1009.4 1209 1007.6 1211.4C1005.9 1213.9 1004.1 1216.3 1002.3 1218.7C1000.5 1221.1 998.7 1223.5 996.9 1225.9C995.1 1228.3 993.2 1230.6 991.4 1233C989.5 1235.4 987.7 1237.7 985.8 1240.1C984 1242.4 982.1 1244.8 980.2 1247.1C978.3 1249.4 976.4 1251.8 974.5 1254.1C972.6 1256.4 970.7 1258.7 968.8 1261C966.9 1263.3 964.9 1265.7 963 1267.9C961.1 1270.2 959.1 1272.5 957.2 1274.8C955.2 1277.1 953.2 1279.3 951.2 1281.5C949.2 1283.7 947.1 1285.9 945.1 1288.1C943 1290.3 941 1292.5 938.9 1294.6C936.8 1296.8 934.7 1298.9 932.6 1301.1C930.5 1303.2 928.4 1305.4 926.3 1307.5C924.2 1309.7 922.1 1311.8 920 1314C918 1316.2 915.9 1318.3 913.9 1320.5C911.8 1322.7 909.8 1325 907.8 1327.2C905.8 1329.4 903.8 1331.6 901.8 1333.9C899.8 1336.1 897.8 1338.4 895.8 1340.7C893.9 1342.9 891.9 1345.2 889.9 1347.4C887.9 1349.7 885.9 1351.9 883.9 1354.1C881.8 1356.2 879.7 1358.4 877.5 1360.4C875.3 1362.5 873.1 1364.4 870.8 1366.4C868.6 1368.4 866.2 1370.3 864 1372.3C861.7 1374.2 859.4 1376.2 857.2 1378.2C854.9 1380.2 852.7 1382.2 850.4 1384.1C848.1 1386.1 845.9 1388 843.5 1389.8C841.1 1391.6 838.7 1393.4 836.2 1395C833.7 1396.6 831.1 1398 828.4 1399.4C825.8 1400.8 823 1402 820.3 1403.3C817.6 1404.6 814.8 1405.8 812.1 1407C809.4 1408.3 806.7 1409.6 804 1410.9C801.3 1412.2 798.6 1413.6 796 1415C793.3 1416.4 790.7 1417.8 788 1419.2C785.3 1420.6 782.7 1422 780 1423.4C777.4 1424.8 774.7 1426.1 772 1427.5C769.3 1428.8 766.6 1430.1 763.9 1431.4C761.2 1432.7 758.5 1434 755.8 1435.2C753 1436.5 750.3 1437.6 747.5 1438.8C744.7 1439.9 741.9 1441 739.1 1442.1C736.3 1443.1 733.5 1444.1 730.6 1445.1C727.8 1446 724.9 1446.9 722.1 1447.9C719.2 1448.8 716.4 1449.7 713.5 1450.5C710.6 1451.4 707.7 1452.3 704.9 1453.1C702 1454 699.1 1454.8 696.2 1455.6C693.3 1456.4 690.4 1457.2 687.5 1458C684.6 1458.8 681.7 1459.6 678.8 1460.3C675.9 1461.1 673 1461.8 670.1 1462.5C667.2 1463.3 664.3 1464 661.3 1464.6C658.4 1465.3 655.5 1466 652.6 1466.6C649.6 1467.3 646.7 1467.9 643.8 1468.5C640.8 1469.2 637.9 1469.8 635 1470.4C632 1470.9 629.1 1471.5 626.1 1472C623.2 1472.6 620.2 1473.1 617.2 1473.6C614.3 1474 611.3 1474.5 608.3 1475C605.4 1475.4 602.4 1475.9 599.4 1476.3C596.5 1476.8 593.5 1477.2 590.6 1477.7C587.6 1478.2 584.6 1478.7 581.7 1479.1C578.7 1479.6 575.7 1480 572.8 1480.5C569.8 1480.9 566.8 1481.3 563.8 1481.7C560.9 1482.1 557.9 1482.5 554.9 1482.9C551.9 1483.2 549 1483.6 546 1484C543 1484.3 540 1484.7 537 1485C534.1 1485.4 531.1 1485.7 528.1 1486C525.1 1486.4 522.1 1486.7 519.2 1487C516.2 1487.4 513.2 1487.7 510.2 1488C507.2 1488.4 504.2 1488.7 501.3 1489C498.3 1489.4 495.3 1489.7 492.3 1490C489.3 1490.3 486.3 1490.6 483.4 1490.9C480.4 1491.3 477.4 1491.6 474.4 1491.9C471.4 1492.2 468.6 1492.5 465.4 1492.8C461.7 1493.2 457.5 1493.6 453.5 1494"/>
<path class="c" stroke-width="2.0" d="M1285.6 312.3C1285.1 315.3 1284.6 318.2 1284 321.2C1283.5 324.1 1283 327.1 1282.5 330C1281.9 333 1281.4 335.9 1280.9 338.9C1280.4 341.8 1279.8 344.8 1279.3 347.7C1278.7 350.7 1278.2 353.6 1277.6 356.6C1277.1 359.5 1276.5 362.5 1276 365.4C1275.4 368.4 1274.8 371.3 1274.3 374.2C1273.7 377.2 1273.2 380.1 1272.6 383.1C1272 386 1271.5 389 1271 391.9C1270.4 394.9 1269.9 397.8 1269.4 400.8C1268.9 403.7 1268.4 406.7 1267.9 409.7C1267.4 412.6 1266.9 415.6 1266.5 418.5C1266 421.5 1265.5 424.5 1265.1 427.4C1264.6 430.4 1264.2 433.4 1263.7 436.3C1263.3 439.3 1262.9 442.3 1262.5 445.2C1262 448.2 1261.6 451.2 1261.2 454.1C1260.8 457.1 1260.4 460.1 1260 463.1C1259.6 466 1259.1 469 1258.6 471.9C1258.2 474.9 1257.6 477.9 1257.1 480.8C1256.5 483.7 1255.9 486.7 1255.3 489.6C1254.8 492.6 1254.1 495.5 1253.5 498.4C1252.9 501.4 1252.3 504.3 1251.7 507.2C1251.2 510.2 1250.6 513.1 1250.1 516.1C1249.6 519 1249 522 1248.5 524.9C1248 527.9 1247.5 530.9 1247.1 533.8C1246.6 536.8 1246.1 539.7 1245.6 542.7C1245.1 545.7 1244.7 548.6 1244.2 551.6C1243.7 554.5 1243.2 557.5 1242.7 560.5C1242.2 563.4 1241.7 566.4 1241.2 569.3C1240.7 572.3 1240.2 575.2 1239.6 578.2C1239.1 581.1 1238.6 584.1 1238.1 587C1237.6 590 1237 593 1236.5 595.9C1236 598.9 1235.4 601.8 1234.9 604.8C1234.3 607.7 1233.8 610.7 1233.2 613.6C1232.7 616.5 1232.1 619.5 1231.6 622.4C1231 625.4 1230.5 628.3 1229.9 631.3C1229.4 634.2 1228.8 637.2 1228.2 640.1C1227.7 643.1 1227.1 646 1226.6 649C1226.1 651.9 1225.5 654.9 1225 657.8C1224.4 660.8 1223.9 663.7 1223.3 666.7C1222.8 669.6 1222.2 672.6 1221.6 675.5C1221.1 678.4 1220.5 681.4 1219.8 684.3C1219.2 687.2 1218.6 690.2 1217.9 693.1C1217.3 696 1216.6 698.9 1215.9 701.9C1215.2 704.8 1214.5 707.7 1213.8 710.6C1213.1 713.5 1212.4 716.4 1211.7 719.4C1211 722.3 1210.3 725.2 1209.6 728.1C1208.8 731 1208.1 733.9 1207.3 736.8C1206.6 739.7 1205.8 742.6 1205 745.5C1204.3 748.4 1203.5 751.3 1202.7 754.2C1201.9 757.1 1201.2 760 1200.4 762.9C1199.7 765.8 1199.1 768.7 1198.4 771.7C1197.7 774.6 1197.2 777.5 1196.5 780.4C1195.9 783.4 1195.3 786.3 1194.6 789.2C1193.9 792.1 1193.2 795.1 1192.5 798C1191.8 800.9 1191 803.8 1190.3 806.7C1189.6 809.6 1188.9 812.5 1188.2 815.4C1187.5 818.3 1186.9 821.2 1186.2 824.2C1185.5 827.1 1184.8 830 1184 832.9C1183.3 835.8 1182.4 838.6 1181.5 841.5C1180.6 844.3 1179.7 847.2 1178.7 850C1177.8 852.8 1176.8 855.7 1175.9 858.5C1175 861.4 1174.1 864.2 1173.3 867.1C1172.4 870 1171.5 872.8 1170.6 875.7C1169.7 878.6 1168.8 881.4 1167.9 884.3C1166.9 887.1 1166 890 1165.1 892.8C1164.2 895.7 1163.3 898.5 1162.4 901.4C1161.5 904.3 1160.6 907.1 1159.7 910C1158.8 912.8 1157.9 915.7 1156.9 918.5C1156 921.4 1155 924.2 1154 927C1153 929.9 1151.9 932.7 1150.8 935.5C1149.8 938.3 1148.7 941.1 1147.6 943.9C1146.5 946.7 1145.5 949.5 1144.4 952.3C1143.4 955.1 1142.3 957.9 1141.3 960.7C1140.3 963.5 1139.3 966.4 1138.4 969.2C1137.4 972.1 1136.5 974.9 1135.6 977.8C1134.7 980.6 1133.8 983.5 1132.8 986.3C1131.9 989.2 1130.9 992 1129.9 994.8C1128.9 997.6 1127.8 1000.4 1126.7 1003.2C1125.6 1006 1124.5 1008.8 1123.3 1011.6C1122.2 1014.3 1121.1 1017.1 1119.9 1019.9C1118.8 1022.7 1117.8 1025.5 1116.7 1028.3C1115.6 1031.1 1114.6 1033.9 1113.5 1036.7C1112.5 1039.5 1111.4 1042.3 1110.3 1045.1C1109.3 1047.9 1108.2 1050.7 1107.1 1053.5C1106 1056.3 1104.9 1059.1 1103.8 1061.8C1102.6 1064.6 1101.5 1067.4 1100.4 1070.2C1099.2 1072.9 1098.1 1075.7 1096.9 1078.5C1095.7 1081.2 1094.6 1084 1093.4 1086.8C1092.2 1089.5 1091 1092.3 1089.8 1095C1088.6 1097.7 1087.3 1100.5 1086.1 1103.2C1084.8 1105.9 1083.5 1108.6 1082.2 1111.3C1081 1114 1079.6 1116.7 1078.3 1119.4C1077.1 1122.2 1075.8 1124.9 1074.5 1127.6C1073.2 1130.3 1072 1133 1070.8 1135.8C1069.6 1138.5 1068.4 1141.3 1067.2 1144C1066 1146.8 1064.8 1149.5 1063.6 1152.2C1062.3 1154.9 1061 1157.6 1059.6 1160.3C1058.3 1163 1056.8 1165.6 1055.4 1168.2C1054 1170.9 1052.5 1173.5 1051.1 1176.1C1049.6 1178.7 1048.1 1181.4 1046.7 1184C1045.2 1186.6 1043.8 1189.2 1042.4 1191.9C1040.9 1194.5 1039.5 1197.2 1038.1 1199.8C1036.6 1202.4 1035.2 1205 1033.6 1207.6C1032.1 1210.1 1030.5 1212.7 1028.8 1215.2C1027.2 1217.7 1025.4 1220.1 1023.7 1222.5C1021.9 1224.9 1020.1 1227.3 1018.3 1229.7C1016.5 1232.1 1014.7 1234.5 1012.9 1236.9C1011.1 1239.3 1009.3 1241.7 1007.5 1244.1C1005.7 1246.5 1003.9 1248.9 1002.1 1251.3C1000.2 1253.7 998.4 1256 996.5 1258.3C994.6 1260.7 992.7 1262.9 990.7 1265.2C988.7 1267.5 986.7 1269.7 984.7 1271.9C982.7 1274.1 980.6 1276.3 978.6 1278.5C976.5 1280.7 974.4 1282.8 972.4 1285C970.3 1287.2 968.2 1289.3 966.1 1291.5C964 1293.6 961.9 1295.8 959.9 1297.9C957.8 1300.1 955.7 1302.2 953.6 1304.4C951.6 1306.6 949.5 1308.7 947.4 1310.9C945.3 1313.1 943.3 1315.2 941.2 1317.4C939.1 1319.5 937 1321.7 934.9 1323.8C932.8 1326 930.7 1328.1 928.6 1330.2C926.4 1332.3 924.3 1334.5 922.2 1336.6C920 1338.7 917.9 1340.7 915.7 1342.8C913.5 1344.9 911.3 1346.9 909.1 1348.9C906.9 1350.9 904.6 1352.9 902.4 1354.9C900.1 1356.9 897.9 1358.8 895.6 1360.8C893.4 1362.8 891.1 1364.8 888.9 1366.8C886.6 1368.8 884.4 1370.8 882.1 1372.7C879.8 1374.7 877.6 1376.6 875.2 1378.5C872.9 1380.4 870.5 1382.2 868.1 1384C865.7 1385.8 863.2 1387.5 860.7 1389.1C858.2 1390.7 855.7 1392.3 853.1 1393.8C850.6 1395.4 848 1396.9 845.4 1398.4C842.8 1400 840.3 1401.5 837.7 1403.1C835.2 1404.7 832.7 1406.4 830.2 1408.1C827.7 1409.7 825.2 1411.4 822.7 1413C820.2 1414.6 817.6 1416.1 815 1417.6C812.4 1419.1 809.8 1420.5 807.1 1421.8C804.4 1423.2 801.7 1424.5 799 1425.8C796.3 1427.1 793.6 1428.3 790.9 1429.6C788.1 1430.8 785.4 1432 782.6 1433.2C779.9 1434.5 777.1 1435.7 774.4 1436.9C771.6 1438.1 768.9 1439.3 766.1 1440.4C763.4 1441.6 760.6 1442.7 757.8 1443.8C755 1444.9 752.2 1446 749.4 1446.9C746.5 1447.9 743.7 1448.8 740.8 1449.6C737.9 1450.5 735 1451.2 732.1 1452C729.2 1452.7 726.3 1453.4 723.4 1454.1C720.5 1454.7 717.5 1455.4 714.6 1456.1C711.7 1456.7 708.8 1457.4 705.8 1458.1C702.9 1458.8 700 1459.5 697.1 1460.2C694.2 1460.9 691.3 1461.6 688.3 1462.3C685.4 1463 682.5 1463.7 679.6 1464.4C676.7 1465.1 673.8 1465.8 670.9 1466.5C667.9 1467.2 664.7 1468 662.1 1468.7C660 1469.2 658.2 1469.6 656.3 1470.1"/>
<path class="c" stroke-width="2.0" d="M822.7 1414.8C825.3 1413.4 828 1411.9 830.6 1410.5C833.3 1409.2 836 1407.8 838.6 1406.5C841.3 1405.2 844 1403.9 846.7 1402.6C849.4 1401.2 852.1 1399.9 854.7 1398.5C857.3 1397 859.9 1395.5 862.5 1393.9C865 1392.3 867.5 1390.6 869.9 1388.9C872.3 1387.1 874.7 1385.3 877 1383.4C879.4 1381.6 881.7 1379.6 883.9 1377.7C886.2 1375.7 888.4 1373.7 890.7 1371.7C892.9 1369.7 895.2 1367.7 897.4 1365.8C899.7 1363.8 901.9 1361.8 904.2 1359.8C906.4 1357.9 908.7 1355.9 911 1353.9C913.2 1352 915.5 1350 917.7 1348C919.9 1346 922.2 1344 924.4 1342C926.6 1340 928.8 1337.9 931 1335.9C933.2 1333.9 935.4 1331.8 937.6 1329.8C939.8 1327.8 942 1325.7 944.2 1323.7C946.4 1321.6 948.6 1319.6 950.8 1317.6C953 1315.6 955.2 1313.5 957.4 1311.5C959.7 1309.5 961.9 1307.5 964.1 1305.5C966.4 1303.5 968.6 1301.5 970.8 1299.5C973.1 1297.5 975.3 1295.5 977.5 1293.5C979.8 1291.5 982 1289.5 984.2 1287.5C986.4 1285.5 988.6 1283.4 990.7 1281.3C992.9 1279.2 995 1277.1 997 1274.9C999.1 1272.8 1001.2 1270.6 1003.2 1268.3C1005.2 1266.1 1007.2 1263.9 1009.1 1261.6C1011.1 1259.4 1013.1 1257.1 1015 1254.8C1017 1252.5 1018.9 1250.3 1020.9 1248C1022.8 1245.7 1024.7 1243.4 1026.6 1241.1C1028.5 1238.8 1030.4 1236.4 1032.3 1234.1C1034.2 1231.8 1036.1 1229.5 1038 1227.2C1040 1224.9 1041.9 1222.6 1043.8 1220.3C1045.7 1218 1047.7 1215.7 1049.6 1213.4C1051.5 1211.1 1053.4 1208.8 1055.2 1206.4C1057 1204 1058.8 1201.6 1060.5 1199.2C1062.2 1196.7 1063.9 1194.2 1065.5 1191.7C1067.2 1189.2 1068.7 1186.6 1070.3 1184.1C1071.9 1181.5 1073.4 1178.9 1074.9 1176.4C1076.5 1173.8 1078 1171.2 1079.4 1168.6C1080.9 1166 1082.4 1163.4 1083.9 1160.8C1085.3 1158.1 1086.7 1155.5 1088.2 1152.9C1089.6 1150.3 1091.1 1147.6 1092.5 1145C1094 1142.4 1095.5 1139.8 1097 1137.2C1098.4 1134.6 1099.9 1132 1101.4 1129.4C1102.9 1126.8 1104.3 1124.1 1105.8 1121.5C1107.2 1118.9 1108.6 1116.2 1110 1113.6C1111.4 1110.9 1112.8 1108.3 1114.2 1105.6C1115.5 1102.9 1116.9 1100.3 1118.3 1097.6C1119.7 1095 1121 1092.3 1122.4 1089.7C1123.8 1087 1125.2 1084.4 1126.6 1081.7C1128 1079.1 1129.4 1076.4 1130.8 1073.7C1132.2 1071.1 1133.6 1068.4 1135 1065.8C1136.3 1063.1 1137.7 1060.4 1139 1057.8C1140.4 1055.1 1141.7 1052.4 1143 1049.7C1144.3 1047 1145.6 1044.3 1146.8 1041.6C1148.1 1038.8 1149.3 1036.1 1150.5 1033.3C1151.7 1030.6 1152.8 1027.8 1154 1025.1C1155.2 1022.3 1156.4 1019.6 1157.6 1016.8C1158.8 1014.1 1160 1011.4 1161.3 1008.6C1162.5 1005.9 1163.8 1003.2 1165.1 1000.5C1166.3 997.8 1167.6 995 1168.8 992.3C1170 989.6 1171.2 986.8 1172.4 984.1C1173.6 981.3 1174.8 978.6 1176 975.8C1177.2 973.1 1178.4 970.3 1179.6 967.6C1180.8 964.8 1181.9 962.1 1183.1 959.3C1184.2 956.5 1185.3 953.7 1186.3 950.9C1187.4 948.1 1188.4 945.3 1189.4 942.5C1190.4 939.7 1191.5 936.8 1192.5 934C1193.5 931.2 1194.5 928.4 1195.5 925.6C1196.6 922.7 1197.6 919.9 1198.6 917.1C1199.6 914.3 1200.6 911.5 1201.6 908.6C1202.6 905.8 1203.5 903 1204.5 900.1C1205.4 897.3 1206.3 894.4 1207.2 891.5C1208.1 888.7 1209 885.8 1209.8 883C1210.7 880.1 1211.6 877.2 1212.4 874.3C1213.3 871.5 1214.1 868.6 1215 865.7C1215.9 862.9 1216.8 860 1217.7 857.2C1218.6 854.3 1219.6 851.5 1220.5 848.6C1221.4 845.8 1222.4 842.9 1223.3 840.1C1224.3 837.2 1225.2 834.4 1226.1 831.5C1227 828.7 1227.9 825.8 1228.7 822.9C1229.6 820.1 1230.4 817.2 1231.3 814.3C1232.1 811.4 1232.9 808.5 1233.7 805.6C1234.4 802.7 1235.2 799.8 1235.9 796.9C1236.6 794 1237.2 791.1 1237.9 788.2C1238.5 785.2 1239 782.3 1239.6 779.3C1240.2 776.4 1240.7 773.5 1241.3 770.5C1241.9 767.6 1242.6 764.7 1243.2 761.7C1243.9 758.8 1244.6 755.9 1245.3 753C1246 750.1 1246.8 747.2 1247.5 744.3C1248.2 741.4 1249 738.5 1249.7 735.5C1250.4 732.6 1251.1 729.7 1251.7 726.8C1252.3 723.9 1252.9 720.9 1253.4 718C1253.8 715 1254.2 712 1254.6 709.1C1254.9 706.1 1255.2 703.1 1255.5 700.1C1255.9 697.2 1256.2 694.2 1256.5 691.2C1256.9 688.2 1257.2 685.2 1257.6 682.3C1258 679.3 1258.5 676.3 1258.9 673.4C1259.3 670.4 1259.8 667.4 1260.3 664.5C1260.8 661.5 1261.3 658.6 1261.7 655.6C1262.2 652.7 1262.8 649.7 1263.3 646.8C1263.8 643.8 1264.3 640.8 1264.8 637.9C1265.3 634.9 1265.8 632 1266.4 629C1266.9 626.1 1267.5 623.2 1268.1 620.2C1268.7 617.3 1269.3 614.4 1269.8 611.4C1270.4 608.5 1270.9 605.5 1271.4 602.6C1271.9 599.6 1272.3 596.6 1272.8 593.7C1273.3 590.7 1273.8 587.8 1274.3 584.8C1274.8 581.9 1275.4 578.9 1276 576C1276.6 573 1277.2 570.1 1277.8 567.2C1278.4 564.2 1279 561.3 1279.5 558.4C1280.1 555.4 1280.7 552.5 1281.2 549.5C1281.8 546.6 1282.4 543.6 1282.9 540.7C1283.5 537.8 1284 534.8 1284.6 531.9C1285.2 528.9 1285.8 526 1286.4 523.1C1286.9 520.1 1287.5 517.2 1288 514.2C1288.5 511.3 1289 508.3 1289.5 505.4C1290 502.4 1290.5 499.4 1291 496.5C1291.5 493.5 1292 490.6 1292.5 487.6C1293 484.7 1293.6 481.8 1294.1 478.8C1294.6 475.9 1295.2 472.9 1295.7 470C1296.2 467 1296.7 464.1 1297.3 461.1C1297.8 458.2 1298.4 455.2 1299.1 452.3C1299.7 449.4 1300.4 446.7 1301.2 443.6C1302.1 440 1303.3 435.9 1304.3 432"/>
<path class="c" stroke-width="2.0" d="M743.5 1454.9C746.3 1453.8 749.1 1452.7 751.9 1451.6C754.7 1450.5 757.4 1449.4 760.2 1448.3C763 1447.1 765.8 1446 768.6 1444.9C771.4 1443.8 774.2 1442.7 776.9 1441.5C779.7 1440.4 782.5 1439.3 785.3 1438.1C788 1436.9 790.8 1435.7 793.5 1434.5C796.2 1433.3 799 1432 801.7 1430.7C804.4 1429.4 807.1 1428.1 809.7 1426.7C812.4 1425.3 815 1423.9 817.7 1422.5C820.3 1421.1 822.9 1419.6 825.5 1418.1C828.2 1416.6 830.8 1415.2 833.4 1413.7C836 1412.3 838.7 1410.9 841.3 1409.5C844 1408.1 846.7 1406.7 849.3 1405.3C852 1403.9 854.6 1402.5 857.2 1401C859.8 1399.6 862.4 1398 864.9 1396.4C867.5 1394.8 869.9 1393.1 872.4 1391.4C874.9 1389.7 877.3 1387.9 879.7 1386.1C882.1 1384.3 884.4 1382.4 886.8 1380.5C889.1 1378.7 891.4 1376.8 893.7 1374.8C896 1372.9 898.3 1371 900.6 1369C902.9 1367.1 905.1 1365.1 907.4 1363.1C909.7 1361.1 911.9 1359.1 914.1 1357.2C916.4 1355.2 918.6 1353.2 920.9 1351.2C923.1 1349.2 925.4 1347.2 927.6 1345.2C929.8 1343.2 932.1 1341.2 934.3 1339.2C936.5 1337.1 938.7 1335.1 940.9 1333.1C943.1 1331 945.3 1329 947.5 1326.9C949.6 1324.8 951.8 1322.8 954 1320.7C956.2 1318.7 958.4 1316.6 960.6 1314.6C962.8 1312.6 965 1310.6 967.3 1308.6C969.5 1306.6 971.8 1304.6 974.1 1302.6C976.3 1300.7 978.6 1298.7 980.9 1296.8C983.2 1294.8 985.5 1292.9 987.7 1290.9C990 1288.9 992.2 1287 994.4 1284.9C996.6 1282.9 998.8 1280.8 1001 1278.7C1003.1 1276.6 1005.2 1274.5 1007.2 1272.3C1009.3 1270.1 1011.3 1267.9 1013.3 1265.6C1015.3 1263.4 1017.2 1261.1 1019.2 1258.8C1021.2 1256.6 1023.1 1254.3 1025.1 1252C1027 1249.7 1029 1247.5 1031 1245.2C1032.9 1242.9 1034.9 1240.6 1036.8 1238.3C1038.7 1236 1040.6 1233.7 1042.5 1231.4C1044.4 1229.1 1046.3 1226.7 1048.2 1224.4C1050 1222 1051.9 1219.7 1053.7 1217.3C1055.5 1214.9 1057.3 1212.5 1059.1 1210.1C1060.9 1207.7 1062.6 1205.2 1064.3 1202.8C1066.1 1200.3 1067.8 1197.8 1069.4 1195.3C1071.1 1192.9 1072.7 1190.3 1074.3 1187.8C1075.9 1185.2 1077.5 1182.7 1079 1180.1C1080.5 1177.5 1082 1174.9 1083.5 1172.3C1085 1169.7 1086.5 1167.1 1088 1164.5C1089.5 1161.9 1091 1159.3 1092.5 1156.7C1094 1154.1 1095.5 1151.5 1097 1148.9C1098.5 1146.3 1100 1143.7 1101.5 1141.1C1102.9 1138.5 1104.4 1135.9 1105.8 1133.2C1107.3 1130.6 1108.7 1128 1110.1 1125.3C1111.5 1122.6 1112.8 1120 1114.2 1117.3C1115.5 1114.6 1116.8 1111.9 1118.1 1109.2C1119.4 1106.5 1120.7 1103.8 1122 1101.1C1123.3 1098.4 1124.5 1095.6 1125.8 1092.9C1127.1 1090.2 1128.4 1087.5 1129.7 1084.8C1131 1082.1 1132.3 1079.4 1133.6 1076.7C1135 1074 1136.3 1071.3 1137.6 1068.6C1138.9 1065.9 1140.2 1063.2 1141.5 1060.5C1142.7 1057.8 1144 1055 1145.2 1052.3C1146.4 1049.6 1147.6 1046.8 1148.8 1044C1150 1041.3 1151.1 1038.5 1152.3 1035.8C1153.5 1033 1154.7 1030.2 1155.9 1027.5C1157 1024.7 1158.2 1022 1159.4 1019.2C1160.7 1016.5 1161.9 1013.8 1163.1 1011C1164.4 1008.3 1165.6 1005.6 1166.9 1002.8C1168.1 1000.1 1169.3 997.4 1170.6 994.6C1171.8 991.9 1173 989.1 1174.2 986.4C1175.4 983.6 1176.6 980.9 1177.7 978.1C1178.8 975.3 1179.9 972.5 1181 969.7C1182.1 966.9 1183.1 964.1 1184.2 961.3C1185.2 958.5 1186.2 955.7 1187.2 952.8C1188.3 950 1189.3 947.2 1190.3 944.4C1191.3 941.5 1192.3 938.7 1193.4 935.9C1194.4 933.1 1195.5 930.3 1196.5 927.5C1197.5 924.7 1198.6 921.8 1199.6 919C1200.6 916.2 1201.6 913.4 1202.6 910.5C1203.6 907.7 1204.6 904.9 1205.5 902C1206.5 899.2 1207.4 896.3 1208.3 893.5C1209.2 890.6 1210.1 887.7 1210.9 884.9C1211.8 882 1212.7 879.1 1213.5 876.2C1214.4 873.4 1215.3 870.5 1216.1 867.6C1217 864.8 1217.9 861.9 1218.8 859C1219.7 856.2 1220.7 853.3 1221.6 850.5C1222.5 847.6 1223.5 844.8 1224.4 841.9C1225.3 839.1 1226.3 836.2 1227.2 833.3C1228.1 830.5 1229 827.6 1229.8 824.7C1230.7 821.9 1231.6 819 1232.4 816.1C1233.2 813.2 1234 810.3 1234.8 807.4C1235.5 804.5 1236.3 801.6 1237 798.7C1237.7 795.8 1238.4 792.9 1239 789.9C1239.6 787 1240.2 784.1 1240.8 781.1C1241.4 778.2 1242 775.2 1242.7 772.3C1243.3 769.4 1244 766.5 1244.8 763.6C1245.5 760.7 1246.3 757.8 1247.1 754.9C1248 752 1248.8 749.1 1249.6 746.2C1250.4 743.4 1251.3 740.5 1252.1 737.6C1252.9 734.7 1253.6 731.8 1254.4 728.9C1255.1 726 1255.7 723 1256.4 720.1C1257 717.2 1257.5 714.2 1258.1 711.3C1258.6 708.3 1259 705.3 1259.5 702.4C1260 699.4 1260.4 696.4 1260.9 693.5C1261.3 690.5 1261.8 687.5 1262.2 684.6C1262.7 681.6 1263.2 678.7 1263.7 675.7C1264.2 672.8 1264.8 669.8 1265.3 666.8C1265.8 663.9 1266.4 660.9 1266.9 658C1267.5 655 1268 652.1 1268.5 649.1C1269.1 646.2 1269.6 643.2 1270.2 640.3C1270.7 637.3 1271.3 634.4 1271.9 631.5C1272.5 628.5 1273.2 625.6 1273.8 622.7C1274.5 619.7 1275.2 616.8 1275.9 613.9C1276.6 611 1277.3 608.1 1278 605.2C1278.7 602.2 1279.3 599.3 1280 596.4C1280.6 593.4 1281.2 590.5 1281.8 587.6C1282.4 584.6 1283 581.7 1283.6 578.7C1284.1 575.8 1284.7 572.8 1285.3 569.9C1285.9 567 1286.5 564 1287.1 561.1C1287.7 558.1 1288.3 555.2 1289 552.3C1289.6 549.4 1290.3 546.4 1291 543.5C1291.6 540.6 1292.3 537.7 1293 534.7C1293.8 531.8 1294.5 528.9 1295.2 526C1295.9 523.1 1296.7 520.2 1297.4 517.3C1298.1 514.4 1298.9 511.5 1299.6 508.5C1300.3 505.6 1300.9 502.9 1301.7 499.8C1302.5 496.2 1303.5 492 1304.4 488.1"/>
<path class="c" stroke-width="2.0" d="M743.5 1457.2C746.4 1456.4 749.3 1455.7 752.2 1454.9C755.1 1454.1 757.9 1453.2 760.8 1452.2C763.6 1451.3 766.4 1450.2 769.2 1449.2C772.1 1448.2 774.9 1447.1 777.7 1446C780.5 1444.9 783.2 1443.8 786 1442.7C788.8 1441.5 791.6 1440.3 794.3 1439.2C797.1 1438 799.9 1436.8 802.6 1435.6C805.4 1434.4 808.1 1433.2 810.9 1432C813.6 1430.8 816.3 1429.5 819.1 1428.3C821.8 1427 824.5 1425.7 827.2 1424.5C830 1423.2 832.7 1422 835.4 1420.8C838.2 1419.5 840.9 1418.3 843.6 1417C846.4 1415.8 849.1 1414.5 851.7 1413.1C854.4 1411.7 857 1410.3 859.6 1408.7C862.2 1407.2 864.7 1405.5 867.1 1403.8C869.6 1402.1 872 1400.3 874.4 1398.5C876.7 1396.6 879 1394.7 881.3 1392.7C883.6 1390.8 885.9 1388.8 888.1 1386.8C890.4 1384.8 892.6 1382.8 894.9 1380.8C897.1 1378.9 899.4 1376.9 901.7 1374.9C904 1373 906.3 1371.1 908.5 1369.1C910.8 1367.1 913.1 1365.2 915.3 1363.2C917.6 1361.2 919.8 1359.2 922 1357.2C924.2 1355.1 926.4 1353.1 928.6 1351C930.8 1349 933 1346.9 935.3 1344.9C937.5 1342.9 939.7 1340.9 942 1338.9C944.2 1337 946.5 1335 948.8 1333C951 1331.1 953.3 1329.1 955.5 1327.1C957.8 1325.1 960 1323.1 962.2 1321C964.4 1319 966.6 1316.9 968.8 1314.9C971 1312.8 973.1 1310.7 975.3 1308.7C977.5 1306.6 979.7 1304.5 981.8 1302.4C984 1300.4 986.2 1298.3 988.4 1296.2C990.5 1294.1 992.7 1292.1 994.8 1289.9C996.9 1287.8 999.1 1285.7 1001.2 1283.5C1003.3 1281.4 1005.3 1279.2 1007.4 1277C1009.5 1274.9 1011.5 1272.7 1013.6 1270.5C1015.6 1268.3 1017.7 1266.1 1019.8 1264C1021.9 1261.8 1024 1259.6 1026 1257.5C1028.1 1255.3 1030.2 1253.1 1032.2 1250.9C1034.2 1248.7 1036.2 1246.4 1038.1 1244.1C1040.1 1241.8 1041.9 1239.5 1043.8 1237.1C1045.6 1234.8 1047.4 1232.3 1049.2 1229.9C1051 1227.5 1052.8 1225.1 1054.5 1222.7C1056.3 1220.2 1058 1217.8 1059.8 1215.3C1061.5 1212.9 1063.3 1210.4 1065 1207.9C1066.7 1205.5 1068.3 1203 1070 1200.5C1071.6 1198 1073.2 1195.4 1074.7 1192.8C1076.3 1190.3 1077.8 1187.7 1079.2 1185C1080.7 1182.4 1082.1 1179.8 1083.6 1177.1C1085 1174.5 1086.4 1171.8 1087.8 1169.2C1089.2 1166.5 1090.7 1163.9 1092.1 1161.3C1093.5 1158.6 1095 1156 1096.4 1153.3C1097.8 1150.7 1099.2 1148 1100.6 1145.4C1102 1142.7 1103.3 1140 1104.7 1137.3C1106 1134.7 1107.4 1132 1108.7 1129.3C1110 1126.6 1111.3 1123.9 1112.6 1121.2C1113.9 1118.4 1115.2 1115.7 1116.5 1113C1117.9 1110.3 1119.2 1107.7 1120.5 1105C1121.9 1102.3 1123.3 1099.6 1124.6 1097C1126 1094.3 1127.4 1091.6 1128.8 1089C1130.2 1086.3 1131.6 1083.7 1133 1081C1134.4 1078.3 1135.8 1075.7 1137.2 1073C1138.5 1070.3 1139.9 1067.7 1141.3 1065C1142.6 1062.3 1144 1059.6 1145.3 1056.9C1146.7 1054.3 1148 1051.6 1149.4 1048.9C1150.7 1046.2 1152 1043.5 1153.3 1040.8C1154.5 1038 1155.8 1035.3 1157 1032.6C1158.3 1029.8 1159.4 1027.1 1160.6 1024.3C1161.8 1021.6 1163 1018.8 1164.2 1016C1165.4 1013.3 1166.6 1010.5 1167.8 1007.8C1169 1005 1170.2 1002.3 1171.4 999.5C1172.6 996.8 1173.8 994 1174.9 991.2C1176.1 988.5 1177.3 985.7 1178.4 982.9C1179.5 980.1 1180.5 977.3 1181.5 974.5C1182.6 971.7 1183.5 968.8 1184.5 966C1185.4 963.1 1186.3 960.3 1187.3 957.4C1188.3 954.6 1189.3 951.7 1190.3 948.9C1191.3 946.1 1192.3 943.3 1193.4 940.5C1194.4 937.6 1195.5 934.8 1196.5 932C1197.6 929.2 1198.6 926.4 1199.7 923.6C1200.7 920.8 1201.7 917.9 1202.7 915.1C1203.7 912.3 1204.7 909.4 1205.7 906.6C1206.7 903.8 1207.6 900.9 1208.5 898C1209.5 895.2 1210.4 892.3 1211.2 889.5C1212.1 886.6 1213 883.7 1213.8 880.8C1214.7 878 1215.6 875.1 1216.4 872.2C1217.3 869.3 1218.2 866.4 1219.1 863.6C1220 860.7 1220.9 857.9 1221.8 855C1222.7 852.1 1223.7 849.3 1224.7 846.5C1225.6 843.6 1226.6 840.8 1227.6 837.9C1228.5 835.1 1229.5 832.2 1230.5 829.4C1231.4 826.5 1232.3 823.7 1233.2 820.8C1234.2 818 1235 815.1 1235.9 812.2C1236.8 809.4 1237.6 806.5 1238.5 803.6C1239.3 800.7 1240.2 797.8 1241 794.9C1241.8 792 1242.6 789.2 1243.4 786.3C1244.2 783.4 1245 780.5 1245.8 777.6C1246.6 774.7 1247.4 771.8 1248.1 768.9C1248.9 766 1249.7 763.1 1250.4 760.2C1251.2 757.2 1251.9 754.3 1252.6 751.4C1253.4 748.5 1254.1 745.6 1254.8 742.7C1255.6 739.8 1256.3 736.9 1257 733.9C1257.8 731 1258.5 728.1 1259.2 725.2C1260 722.3 1260.7 719.4 1261.4 716.5C1262.2 713.6 1262.9 710.6 1263.6 707.7C1264.3 704.8 1265 701.9 1265.6 698.9C1266.3 696 1266.9 693.1 1267.5 690.1C1268.1 687.2 1268.6 684.2 1269.2 681.3C1269.7 678.3 1270.2 675.4 1270.8 672.4C1271.3 669.5 1271.8 666.5 1272.4 663.6C1273 660.6 1273.6 657.7 1274.3 654.8C1275 651.8 1275.7 648.9 1276.5 646C1277.2 643.1 1278 640.2 1278.8 637.3C1279.5 634.4 1280.2 631.5 1280.9 628.6C1281.7 625.7 1282.3 622.7 1283 619.8C1283.8 616.9 1284.5 614 1285.3 611.1C1286 608.2 1286.9 605.3 1287.7 602.4C1288.5 599.5 1289.3 596.6 1290.2 593.8C1291 590.9 1291.8 588 1292.6 585.1C1293.4 582.2 1294.1 579.3 1294.9 576.4C1295.6 573.5 1296.4 570.5 1297.1 567.6C1297.9 564.7 1298.6 561.8 1299.3 558.9C1300 556 1300.7 553.3 1301.5 550.2C1302.4 546.6 1303.4 542.4 1304.4 538.5"/>
<path class="c" stroke-width="1.8" d="M1286.4 312.3C1285.9 315.3 1285.4 318.2 1284.8 321.2C1284.3 324.1 1283.8 327.1 1283.3 330C1282.7 333 1282.2 335.9 1281.7 338.9C1281.2 341.8 1280.6 344.8 1280.1 347.7C1279.5 350.7 1279 353.6 1278.5 356.6C1277.9 359.5 1277.3 362.5 1276.8 365.4C1276.2 368.4 1275.6 371.3 1275.1 374.3C1274.5 377.2 1273.9 380.1 1273.4 383.1C1272.8 386 1272.3 389 1271.8 391.9C1271.2 394.9 1270.7 397.9 1270.2 400.8C1269.7 403.8 1269.2 406.7 1268.7 409.7C1268.3 412.6 1267.8 415.6 1267.3 418.6C1266.9 421.5 1266.4 424.5 1265.9 427.5C1265.4 430.4 1265 433.4 1264.5 436.3C1264 439.3 1263.5 442.3 1263 445.2C1262.5 448.2 1262 451.4 1261.5 454.1C1261.1 456.3 1260.8 458 1260.5 460"/>
<path class="c" stroke-width="3" d="M570.8 820V1492"/>
<path class="c" stroke-width="3" d="M743.4 936V1456"/>
<path class="c" stroke-width="3" d="M822.7 1047V1413"/>
<rect class="k" x="929.7" y="1277.6" width="30.4" height="19.8"/>
<rect class="k" x="1230.5" y="408.6" width="32.9" height="24.3"/>
<rect class="k" x="1281.5" y="509.8" width="32.9" height="20.5"/>
<text class="l" transform="translate(1053.3 722) scale(.96 1)">2,0</text>
<text class="l" transform="translate(1053.8 744.2) scale(.96 1)">1,8</text>
<text class="l" transform="translate(1053.8 789.7) scale(.96 1)">1,6</text>
<text class="l" transform="translate(1053.8 825.9) scale(.96 1)">1,5</text>
<text class="l" transform="translate(1053.8 875.7) scale(.96 1)">1,4</text>
<text class="l" transform="translate(1053.8 949.3) scale(.96 1)">1,3</text>
<text class="l" transform="translate(1047 1049.9) scale(.96 1)">1,2</text>
<text class="l" transform="translate(1015.5 1117.6) scale(.96 1)">1,15</text>
<text class="l" transform="translate(1004.5 1170) scale(.96 1)">1,1</text>
<text class="l" transform="translate(974.3 1190.6) scale(.96 1)">1,08</text>
<text class="l" transform="translate(941.8 1243) scale(.96 1)">1,04</text>
<text class="l" transform="translate(886.3 1318.1) scale(.96 1)">1,0</text>
<text class="l" transform="translate(930.2 1294.1) scale(.96 1)">0,6</text>
<text class="l" transform="translate(753.5 1419) scale(.96 1)">0,5</text>
<text class="l" transform="translate(533.2 1093) scale(.96 1)">0,8</text>
<text class="l" transform="translate(711.2 1093) scale(.96 1)">0,9</text>
<text class="l" transform="translate(781.3 1093) scale(.96 1)">0,96</text>
<text class="l" transform="translate(1219.5 378.8) scale(.96 1)">0,5</text>
<text class="l" transform="translate(1233.5 429.6) scale(.96 1)">0,6</text>
<text class="l" transform="translate(1266.5 472.5) scale(.96 1)">0,8</text>
<text class="l" transform="translate(1284.5 527) scale(.96 1)">0,9</text>
<text class="l" transform="translate(1280.5 653.2) scale(.96 1)">1,0</text>
<text class="l" transform="translate(1035 692.5) scale(.96 1)"><tspan class="i">T</tspan><tspan dy="5" font-size="14.5">r</tspan><tspan dy="-5"> = 3,0</tspan></text>
<text class="l" transform="translate(584.6 848.5) rotate(33.2) scale(.96 1)">Линия насыщения</text>
<text class="a" text-anchor="end" transform="translate(445.3 1440.5) scale(.975 1)">0,1</text>
<text class="a" text-anchor="end" transform="translate(445.3 1357.5) scale(.975 1)">0,2</text>
<text class="a" text-anchor="end" transform="translate(445.3 1274.5) scale(.975 1)">0,3</text>
<text class="a" text-anchor="end" transform="translate(445.2 1191.6) scale(.975 1)">0,4</text>
<text class="a" text-anchor="end" transform="translate(445.2 1108.6) scale(.975 1)">0,5</text>
<text class="a" text-anchor="end" transform="translate(445.2 1025.6) scale(.975 1)">0,6</text>
<text class="a" text-anchor="end" transform="translate(445.1 942.7) scale(.975 1)">0,7</text>
<text class="a" text-anchor="end" transform="translate(445.1 859.7) scale(.975 1)">0,8</text>
<text class="a" text-anchor="end" transform="translate(445.1 776.7) scale(.975 1)">0,9</text>
<text class="a" text-anchor="end" transform="translate(445 693.8) scale(.975 1)">1,0</text>
<text class="a" text-anchor="end" transform="translate(445 610.8) scale(.975 1)">1,1</text>
<text class="a" text-anchor="end" transform="translate(445 527.8) scale(.975 1)">1,2</text>
<text class="a" text-anchor="end" transform="translate(445 444.8) scale(.975 1)">1,3</text>
<text class="a" text-anchor="end" transform="translate(444.9 361.9) scale(.975 1)">1,4</text>
<text class="a" text-anchor="end" transform="translate(444.9 278.9) scale(.975 1)">1,5</text>
<text class="a" text-anchor="end" transform="translate(444.6 1520) scale(.975 1)">0</text>
<text class="a i" transform="translate(430.6 252.6) scale(.95 1)" style="font-size:23.2px">Z</text>
<text class="a" text-anchor="middle" transform="translate(455.4 1541.5) scale(.975 1)">0,1</text>
<text class="a" text-anchor="middle" transform="translate(879 1541.5) scale(.975 1)">1</text>
<text class="a" text-anchor="middle" transform="translate(1306 1541.5) scale(.975 1)">10</text>
<text class="a" x="1296" y="1565.5"><tspan class="i" font-size="22">P</tspan><tspan dy="6.5" font-size="16">r</tspan></text>
<text x="197" y="177" font-size="27.7" font-weight="bold" fill="#222" stroke="none">ГОСТ 12.2.085—2017</text>
<text x="242.6" y="1617.8" font-size="24.95">Рисунок И.2 — Зависимость коэффициента сжимаемости <tspan class="i">Z</tspan> от приведенных температуры <tspan class="i">T</tspan><tspan dy="6.5" font-size="18.5">r</tspan><tspan dy="-6.5"> и давления </tspan><tspan class="i">P</tspan><tspan dy="6.5" font-size="18.5">r</tspan></text>
<text x="196.3" y="2132.7" font-size="25">62</text>
</svg></body></html>
